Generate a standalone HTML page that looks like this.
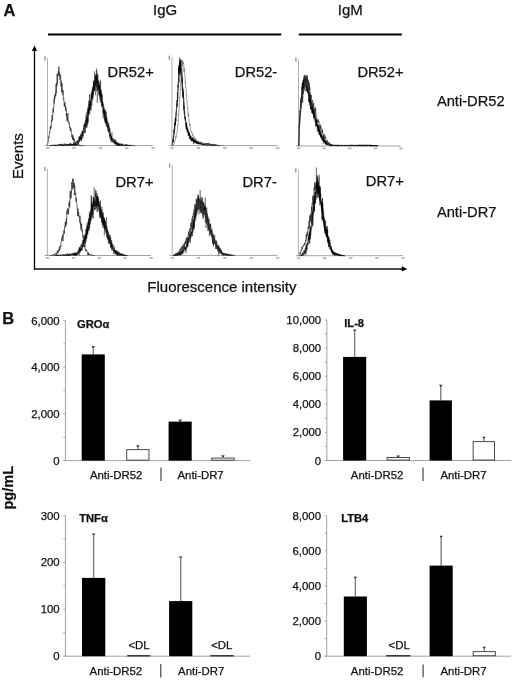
<!DOCTYPE html>
<html><head><meta charset="utf-8"><style>
html,body{margin:0;padding:0;background:#fff;}
body{width:520px;height:684px;overflow:hidden;}
svg{display:block;font-family:"Liberation Sans", sans-serif;filter:blur(0.3px);}
text{stroke:#111;stroke-width:0.25px;paint-order:stroke;}
</style></head><body>
<svg width="520" height="684" viewBox="0 0 520 684">
<rect width="520" height="684" fill="#fff"/>
<text x="3.60" y="15.60" font-size="16.5" font-weight="bold" text-anchor="start" fill="#111" >A</text>
<text x="153.10" y="15.40" font-size="15" font-weight="normal" text-anchor="start" fill="#111" >IgG</text>
<text x="337.80" y="15.40" font-size="15" font-weight="normal" text-anchor="start" fill="#111" >IgM</text>
<line x1="48.00" y1="34.40" x2="281.30" y2="34.40" stroke="#000" stroke-width="2" />
<line x1="298.80" y1="34.40" x2="401.80" y2="34.40" stroke="#000" stroke-width="2" />
<line x1="34.50" y1="50.00" x2="34.50" y2="269.60" stroke="#000" stroke-width="1.3" />
<path d="M34.5 45.6 L37.1 51 L31.9 51 Z" fill="#000"/>
<line x1="33.90" y1="268.95" x2="402.50" y2="268.95" stroke="#111" stroke-width="1.4" />
<path d="M407.3 268.95 L401.8 266.3 L401.8 271.6 Z" fill="#000"/>
<text x="0" y="0" font-size="15" fill="#111" transform="translate(22.7 179.0) rotate(-90)">Events</text>
<text x="147.30" y="292.40" font-size="15" font-weight="normal" text-anchor="start" fill="#111" >Fluorescence intensity</text>
<text x="107.60" y="77.00" font-size="14.7" font-weight="normal" text-anchor="start" fill="#111" >DR52+</text>
<text x="234.80" y="77.30" font-size="14.7" font-weight="normal" text-anchor="start" fill="#111" >DR52-</text>
<text x="357.40" y="77.20" font-size="14.7" font-weight="normal" text-anchor="start" fill="#111" >DR52+</text>
<text x="436.90" y="105.80" font-size="14.7" font-weight="normal" text-anchor="start" fill="#111" >Anti-DR52</text>
<text x="115.50" y="187.00" font-size="14.7" font-weight="normal" text-anchor="start" fill="#111" >DR7+</text>
<text x="242.50" y="186.60" font-size="14.7" font-weight="normal" text-anchor="start" fill="#111" >DR7-</text>
<text x="365.80" y="186.40" font-size="14.7" font-weight="normal" text-anchor="start" fill="#111" >DR7+</text>
<text x="436.90" y="217.10" font-size="14.7" font-weight="normal" text-anchor="start" fill="#111" >Anti-DR7</text>
<line x1="47.50" y1="58.20" x2="47.50" y2="145.60" stroke="#9a9a9a" stroke-width="0.8" />
<line x1="45.00" y1="145.60" x2="153.00" y2="145.60" stroke="#8a8a8a" stroke-width="0.8" />
<rect x="44.20" y="56.20" width="1.40" height="4.20" fill="#999" stroke="none" stroke-width="0"/>
<rect x="45.90" y="147.20" width="3.40" height="1.60" fill="#b0b0b0" stroke="none" stroke-width="0"/>
<rect x="72.28" y="147.20" width="3.40" height="1.60" fill="#b0b0b0" stroke="none" stroke-width="0"/>
<rect x="98.65" y="147.20" width="3.40" height="1.60" fill="#b0b0b0" stroke="none" stroke-width="0"/>
<rect x="125.03" y="147.20" width="3.40" height="1.60" fill="#b0b0b0" stroke="none" stroke-width="0"/>
<rect x="151.40" y="147.20" width="3.40" height="1.60" fill="#b0b0b0" stroke="none" stroke-width="0"/>
<path d="M47.30 145.60 L47.50 144.54 L47.70 143.92 L47.90 143.50 L48.10 142.16 L48.30 141.76 L48.50 139.49 L48.70 136.63 L48.90 137.93 L49.10 136.92 L49.30 133.84 L49.50 132.68 L49.70 131.75 L49.90 132.37 L50.10 129.24 L50.30 126.35 L50.50 129.40 L50.70 126.18 L50.90 128.26 L51.10 125.61 L51.30 125.75 L51.50 120.49 L51.70 121.87 L51.90 116.54 L52.10 115.51 L52.30 115.13 L52.50 120.43 L52.70 113.49 L52.90 110.70 L53.10 108.84 L53.30 112.50 L53.50 107.89 L53.70 108.12 L53.90 106.23 L54.10 98.74 L54.30 103.56 L54.50 99.61 L54.70 95.10 L54.90 98.84 L55.10 95.85 L55.30 93.72 L55.50 92.55 L55.70 95.96 L55.90 89.81 L56.10 83.73 L56.30 93.46 L56.50 82.99 L56.70 84.50 L56.90 86.02 L57.10 73.95 L57.30 77.27 L57.50 83.68 L57.70 76.97 L57.90 73.50 L58.10 75.50 L58.30 70.83 L58.50 73.31 L58.70 69.80 L58.90 66.48 L59.10 75.71 L59.30 72.36 L59.50 75.75 L59.70 73.96 L59.90 80.32 L60.10 78.71 L60.30 78.16 L60.50 74.79 L60.70 75.01 L60.90 86.20 L61.10 85.27 L61.30 80.79 L61.50 92.34 L61.70 87.52 L61.90 87.25 L62.10 83.38 L62.30 86.94 L62.50 92.19 L62.70 93.82 L62.90 94.89 L63.10 90.09 L63.30 98.42 L63.50 99.32 L63.70 98.30 L63.90 101.04 L64.10 102.38 L64.30 106.44 L64.50 103.86 L64.70 106.24 L64.90 102.12 L65.10 104.71 L65.30 107.76 L65.50 106.57 L65.70 110.52 L65.90 107.27 L66.10 111.29 L66.30 110.47 L66.50 116.72 L66.70 112.93 L66.90 119.45 L67.10 121.18 L67.30 117.27 L67.50 119.67 L67.70 117.66 L67.90 113.10 L68.10 121.81 L68.30 122.05 L68.50 120.76 L68.70 120.85 L68.90 123.23 L69.10 124.05 L69.30 122.70 L69.50 123.88 L69.70 128.10 L69.90 126.71 L70.10 127.21 L70.30 130.25 L70.50 128.26 L70.70 131.27 L70.90 128.41 L71.10 130.69 L71.30 131.63 L71.50 133.60 L71.70 133.46 L71.90 137.37 L72.10 136.52 L72.30 134.73 L72.50 139.26 L72.70 135.31 L72.90 139.71 L73.10 136.68 L73.30 139.41 L73.50 137.75 L73.70 139.07 L73.90 141.57 L74.10 138.72 L74.30 139.04 L74.50 141.18 L74.70 141.85 L74.90 142.17 L75.10 143.32 L75.30 141.95 L75.50 143.66 L75.70 143.63 L75.90 144.42 L76.10 144.55 L76.30 145.11 L76.50 143.97 L76.70 144.80 L76.90 144.37 L77.10 144.84 L77.30 145.18 L77.50 145.06 L77.70 145.18 L77.90 144.99 L78.10 145.17 L78.30 145.18 L78.50 145.59 L78.70 145.41 L78.90 144.62 L79.10 145.41 L79.30 145.55 L79.50 145.15 L79.70 144.88 L79.90 145.60 L80.10 145.38 L80.30 145.51 L80.50 145.60 L80.70 145.22 L80.90 145.42 L81.10 145.42 L81.30 145.59 L81.50 145.38 L81.70 145.57 L81.90 145.52 L82.10 145.60 L82.30 145.60 L82.50 145.36 L82.70 145.60 L82.90 145.52 L83.10 145.56 L83.30 145.60 L83.50 145.60 L83.70 145.54 L83.90 145.60 L84.10 145.60 L84.30 145.59 L84.50 145.57 L84.70 145.59 L84.90 145.60" fill="none" stroke="#333" stroke-width="0.85" stroke-opacity="0.85" stroke-linejoin="round"/>
<path d="M49.00 145.60 L49.15 145.56 L49.30 145.60 L49.45 145.60 L49.60 145.47 L49.75 145.48 L49.90 145.51 L50.05 145.60 L50.20 145.42 L50.35 145.26 L50.50 145.27 L50.65 145.45 L50.80 145.60 L50.95 145.24 L51.10 145.52 L51.25 145.60 L51.40 145.35 L51.55 145.60 L51.70 145.60 L51.85 145.60 L52.00 145.02 L52.15 145.55 L52.30 145.32 L52.45 144.80 L52.60 144.84 L52.75 145.43 L52.90 145.48 L53.05 145.60 L53.20 145.60 L53.35 145.20 L53.50 145.21 L53.65 145.31 L53.80 144.95 L53.95 145.60 L54.10 145.36 L54.25 145.02 L54.40 145.08 L54.55 144.86 L54.70 145.14 L54.85 145.44 L55.00 145.14 L55.15 145.60 L55.30 145.60 L55.45 145.02 L55.60 145.30 L55.75 145.13 L55.90 145.60 L56.05 145.43 L56.20 145.54 L56.35 145.60 L56.50 145.60 L56.65 145.41 L56.80 144.81 L56.95 145.05 L57.10 145.52 L57.25 145.24 L57.40 144.85 L57.55 145.60 L57.70 145.28 L57.85 144.94 L58.00 144.87 L58.15 144.35 L58.30 144.63 L58.45 145.04 L58.60 145.04 L58.75 144.79 L58.90 145.46 L59.05 145.20 L59.20 144.71 L59.35 144.15 L59.50 145.25 L59.65 145.19 L59.80 145.06 L59.95 144.45 L60.10 145.17 L60.25 144.36 L60.40 145.60 L60.55 145.24 L60.70 145.25 L60.85 144.71 L61.00 144.56 L61.15 145.60 L61.30 145.60 L61.45 144.93 L61.60 145.48 L61.75 145.60 L61.90 144.52 L62.05 144.82 L62.20 144.81 L62.35 145.36 L62.50 144.49 L62.65 145.22 L62.80 144.44 L62.95 145.60 L63.10 145.57 L63.25 144.94 L63.40 145.47 L63.55 144.65 L63.70 144.89 L63.85 145.59 L64.00 145.00 L64.15 145.25 L64.30 144.48 L64.45 145.41 L64.60 145.29 L64.75 144.28 L64.90 143.64 L65.05 143.78 L65.20 144.96 L65.35 144.86 L65.50 144.04 L65.65 145.07 L65.80 145.60 L65.95 144.91 L66.10 144.69 L66.25 145.50 L66.40 145.60 L66.55 145.60 L66.70 144.53 L66.85 145.44 L67.00 145.03 L67.15 144.80 L67.30 144.53 L67.45 145.15 L67.60 144.59 L67.75 145.50 L67.90 145.15 L68.05 145.59 L68.20 144.13 L68.35 144.91 L68.50 145.38 L68.65 145.11 L68.80 145.02 L68.95 144.38 L69.10 145.60 L69.25 145.56 L69.40 145.10 L69.55 143.04 L69.70 144.14 L69.85 144.89 L70.00 144.29 L70.15 143.31 L70.30 144.95 L70.45 145.04 L70.60 143.87 L70.75 144.39 L70.90 144.24 L71.05 145.11 L71.20 143.27 L71.35 143.41 L71.50 144.26 L71.65 144.15 L71.80 145.60 L71.95 144.15 L72.10 144.78 L72.25 144.27 L72.40 144.05 L72.55 144.86 L72.70 145.60 L72.85 144.24 L73.00 145.14 L73.15 144.78 L73.30 144.99 L73.45 144.75 L73.60 145.60 L73.75 143.35 L73.90 144.16 L74.05 143.37 L74.20 142.55 L74.35 144.28 L74.50 145.60 L74.65 145.08 L74.80 145.35 L74.95 144.66 L75.10 144.07 L75.25 145.60 L75.40 143.73 L75.55 145.54 L75.70 143.65 L75.85 144.00 L76.00 144.14 L76.15 143.78 L76.30 144.21 L76.45 144.19 L76.60 145.37 L76.75 143.25 L76.90 140.72 L77.05 140.32 L77.20 140.97 L77.35 141.61 L77.50 143.38 L77.65 140.11 L77.80 142.13 L77.95 141.96 L78.10 142.11 L78.25 141.30 L78.40 141.96 L78.55 141.17 L78.70 142.71 L78.85 141.26 L79.00 136.19 L79.15 140.27 L79.30 140.37 L79.45 138.65 L79.60 138.06 L79.75 141.48 L79.90 139.43 L80.05 136.84 L80.20 137.94 L80.35 137.99 L80.50 134.56 L80.65 139.23 L80.80 137.23 L80.95 138.33 L81.10 133.26 L81.25 141.20 L81.40 137.80 L81.55 137.13 L81.70 133.77 L81.85 133.53 L82.00 131.06 L82.15 138.58 L82.30 131.93 L82.45 134.40 L82.60 135.07 L82.75 131.24 L82.90 135.06 L83.05 138.10 L83.20 132.65 L83.35 135.67 L83.50 132.69 L83.65 129.08 L83.80 128.81 L83.95 124.23 L84.10 129.26 L84.25 133.52 L84.40 130.52 L84.55 130.65 L84.70 131.25 L84.85 125.07 L85.00 128.39 L85.15 132.71 L85.30 122.63 L85.45 125.06 L85.60 122.81 L85.75 123.21 L85.90 120.66 L86.05 122.35 L86.20 117.12 L86.35 119.67 L86.50 119.19 L86.65 118.50 L86.80 125.49 L86.95 119.60 L87.10 119.37 L87.25 116.78 L87.40 122.82 L87.55 109.29 L87.70 115.25 L87.85 120.40 L88.00 122.02 L88.15 114.99 L88.30 113.46 L88.45 115.69 L88.60 111.25 L88.75 113.98 L88.90 107.59 L89.05 112.95 L89.20 108.88 L89.35 103.10 L89.50 94.35 L89.65 111.37 L89.80 107.87 L89.95 109.02 L90.10 99.89 L90.25 109.14 L90.40 104.93 L90.55 101.79 L90.70 106.13 L90.85 105.35 L91.00 102.08 L91.15 110.32 L91.30 106.10 L91.45 99.74 L91.60 95.93 L91.75 97.12 L91.90 105.44 L92.05 97.36 L92.20 89.46 L92.35 90.18 L92.50 93.21 L92.65 97.33 L92.80 87.83 L92.95 94.40 L93.10 97.38 L93.25 94.71 L93.40 80.76 L93.55 87.68 L93.70 81.60 L93.85 91.12 L94.00 82.12 L94.15 91.11 L94.30 88.01 L94.45 71.39 L94.60 81.56 L94.75 89.02 L94.90 86.10 L95.05 83.22 L95.20 77.39 L95.35 87.70 L95.50 95.29 L95.65 85.91 L95.80 83.87 L95.95 83.12 L96.10 75.41 L96.25 81.63 L96.40 78.48 L96.55 87.31 L96.70 78.21 L96.85 70.57 L97.00 79.02 L97.15 82.43 L97.30 83.23 L97.45 73.21 L97.60 90.42 L97.75 85.56 L97.90 82.28 L98.05 80.81 L98.20 88.44 L98.35 84.16 L98.50 88.10 L98.65 86.00 L98.80 87.91 L98.95 94.43 L99.10 87.97 L99.25 82.90 L99.40 94.44 L99.55 90.48 L99.70 85.57 L99.85 96.52 L100.00 89.73 L100.15 97.77 L100.30 85.67 L100.45 79.70 L100.60 82.31 L100.75 96.04 L100.90 91.47 L101.05 95.84 L101.20 96.80 L101.35 89.67 L101.50 106.20 L101.65 94.03 L101.80 100.77 L101.95 93.77 L102.10 101.06 L102.25 106.35 L102.40 102.17 L102.55 100.61 L102.70 104.99 L102.85 103.50 L103.00 109.34 L103.15 118.04 L103.30 103.87 L103.45 105.64 L103.60 109.06 L103.75 110.18 L103.90 106.36 L104.05 113.76 L104.20 115.85 L104.35 114.13 L104.50 108.58 L104.65 120.77 L104.80 110.00 L104.95 118.68 L105.10 121.29 L105.25 111.80 L105.40 118.22 L105.55 123.85 L105.70 120.53 L105.85 115.86 L106.00 115.46 L106.15 122.55 L106.30 119.84 L106.45 119.24 L106.60 125.06 L106.75 121.80 L106.90 123.81 L107.05 126.22 L107.20 126.56 L107.35 125.05 L107.50 125.69 L107.65 128.30 L107.80 128.30 L107.95 123.53 L108.10 127.13 L108.25 124.98 L108.40 124.97 L108.55 127.52 L108.70 122.74 L108.85 133.02 L109.00 128.48 L109.15 132.42 L109.30 126.48 L109.45 127.53 L109.60 138.51 L109.75 136.13 L109.90 131.80 L110.05 132.23 L110.20 132.86 L110.35 135.41 L110.50 134.50 L110.65 134.44 L110.80 136.63 L110.95 134.38 L111.10 142.42 L111.25 136.06 L111.40 140.13 L111.55 136.01 L111.70 138.88 L111.85 140.51 L112.00 138.09 L112.15 140.93 L112.30 141.10 L112.45 142.56 L112.60 139.70 L112.75 138.88 L112.90 138.08 L113.05 140.46 L113.20 138.46 L113.35 140.52 L113.50 140.88 L113.65 139.89 L113.80 139.22 L113.95 141.79 L114.10 141.78 L114.25 141.79 L114.40 141.55 L114.55 143.23 L114.70 140.41 L114.85 142.70 L115.00 141.58 L115.15 143.57 L115.30 142.02 L115.45 142.11 L115.60 143.34 L115.75 140.23 L115.90 142.53 L116.05 140.88 L116.20 142.04 L116.35 144.13 L116.50 143.88 L116.65 143.02 L116.80 143.55 L116.95 143.65 L117.10 144.10 L117.25 145.60 L117.40 144.17 L117.55 145.60 L117.70 143.71 L117.85 144.84 L118.00 144.87 L118.15 144.45 L118.30 144.05 L118.45 145.60 L118.60 145.60 L118.75 145.34 L118.90 145.60 L119.05 145.29 L119.20 143.17 L119.35 145.41 L119.50 144.03 L119.65 145.60 L119.80 144.38 L119.95 144.89 L120.10 144.72 L120.25 144.26 L120.40 143.40 L120.55 144.60 L120.70 144.67 L120.85 145.49 L121.00 144.40 L121.15 145.00 L121.30 144.28 L121.45 144.90 L121.60 143.72 L121.75 145.60 L121.90 145.12 L122.05 144.38 L122.20 145.19 L122.35 145.48 L122.50 145.16 L122.65 145.60 L122.80 144.95 L122.95 143.58 L123.10 144.38 L123.25 145.60 L123.40 145.58 L123.55 145.32 L123.70 144.54 L123.85 145.57 L124.00 145.51 L124.15 144.66 L124.30 144.69 L124.45 145.36 L124.60 145.60 L124.75 145.60 L124.90 145.55 L125.05 145.60 L125.20 144.84 L125.35 145.53 L125.50 145.00 L125.65 144.35 L125.80 144.70 L125.95 145.60 L126.10 144.87 L126.25 144.75 L126.40 145.60 L126.55 145.60 L126.70 145.35 L126.85 145.60 L127.00 144.70 L127.15 145.60 L127.30 145.60 L127.45 145.46 L127.60 145.45 L127.75 145.30 L127.90 145.27 L128.05 145.46 L128.20 144.97 L128.35 145.60 L128.50 145.41 L128.65 145.60 L128.80 145.38 L128.95 145.36 L129.10 145.60 L129.25 145.60 L129.40 145.21 L129.55 145.35 L129.70 145.60 L129.85 144.89 L130.00 144.84 L130.15 145.60 L130.30 145.41 L130.45 144.86 L130.60 145.31 L130.75 145.46 L130.90 145.56 L131.05 145.60 L131.20 145.57 L131.35 145.60 L131.50 145.39 L131.65 145.60 L131.80 145.60 L131.95 145.60 L132.10 145.56 L132.25 145.60 L132.40 145.59 L132.55 145.42 L132.70 145.52 L132.85 145.51 L133.00 145.54 L133.15 145.58 L133.30 145.60 L133.45 145.60 L133.60 145.53 L133.75 145.60 L133.90 145.51 L134.05 145.59 L134.20 145.60 L134.35 145.60 L134.50 145.60 L134.65 145.60 L134.80 145.60 L134.95 145.60" fill="none" stroke="#000" stroke-width="0.5" stroke-opacity="0.7" stroke-linejoin="round"/>
<path d="M49.00 145.60 L49.15 145.50 L49.30 145.60 L49.45 145.60 L49.60 145.55 L49.75 145.59 L49.90 145.60 L50.05 145.60 L50.20 145.60 L50.35 145.20 L50.50 145.05 L50.65 145.34 L50.80 145.19 L50.95 145.60 L51.10 145.50 L51.25 145.39 L51.40 145.60 L51.55 145.60 L51.70 145.42 L51.85 145.54 L52.00 145.60 L52.15 145.30 L52.30 145.51 L52.45 145.05 L52.60 145.40 L52.75 145.50 L52.90 145.34 L53.05 145.45 L53.20 145.60 L53.35 145.52 L53.50 145.07 L53.65 145.10 L53.80 144.83 L53.95 145.60 L54.10 145.50 L54.25 145.50 L54.40 145.25 L54.55 145.51 L54.70 145.53 L54.85 144.97 L55.00 145.22 L55.15 145.60 L55.30 144.69 L55.45 144.84 L55.60 145.54 L55.75 144.89 L55.90 145.60 L56.05 144.74 L56.20 145.36 L56.35 145.60 L56.50 145.43 L56.65 145.60 L56.80 145.15 L56.95 145.15 L57.10 145.22 L57.25 145.50 L57.40 145.60 L57.55 145.18 L57.70 145.60 L57.85 145.09 L58.00 144.64 L58.15 145.07 L58.30 145.40 L58.45 145.29 L58.60 145.26 L58.75 145.47 L58.90 145.49 L59.05 145.60 L59.20 144.56 L59.35 145.18 L59.50 144.67 L59.65 145.30 L59.80 145.12 L59.95 145.25 L60.10 144.91 L60.25 144.71 L60.40 145.02 L60.55 145.51 L60.70 145.56 L60.85 144.23 L61.00 145.28 L61.15 145.29 L61.30 144.31 L61.45 144.51 L61.60 144.81 L61.75 145.33 L61.90 143.78 L62.05 144.88 L62.20 144.78 L62.35 145.19 L62.50 145.60 L62.65 145.60 L62.80 144.84 L62.95 144.84 L63.10 145.21 L63.25 145.60 L63.40 145.60 L63.55 145.25 L63.70 145.60 L63.85 144.51 L64.00 144.35 L64.15 143.33 L64.30 144.50 L64.45 145.39 L64.60 145.55 L64.75 145.60 L64.90 145.38 L65.05 145.12 L65.20 144.41 L65.35 144.62 L65.50 144.63 L65.65 144.86 L65.80 144.57 L65.95 144.07 L66.10 145.60 L66.25 145.26 L66.40 145.60 L66.55 143.92 L66.70 144.12 L66.85 144.46 L67.00 145.60 L67.15 144.83 L67.30 145.09 L67.45 144.87 L67.60 145.04 L67.75 144.57 L67.90 145.17 L68.05 144.33 L68.20 144.73 L68.35 145.09 L68.50 144.96 L68.65 145.17 L68.80 144.31 L68.95 145.05 L69.10 144.65 L69.25 145.12 L69.40 145.60 L69.55 144.19 L69.70 145.57 L69.85 144.33 L70.00 144.50 L70.15 145.60 L70.30 145.47 L70.45 145.15 L70.60 145.36 L70.75 145.60 L70.90 144.19 L71.05 144.91 L71.20 144.43 L71.35 145.03 L71.50 144.46 L71.65 145.25 L71.80 144.68 L71.95 144.19 L72.10 144.60 L72.25 144.98 L72.40 145.47 L72.55 144.45 L72.70 144.28 L72.85 144.76 L73.00 145.16 L73.15 144.05 L73.30 142.38 L73.45 144.72 L73.60 144.15 L73.75 144.08 L73.90 145.60 L74.05 144.25 L74.20 144.97 L74.35 143.04 L74.50 144.51 L74.65 144.97 L74.80 144.42 L74.95 144.02 L75.10 144.69 L75.25 144.16 L75.40 145.41 L75.55 144.25 L75.70 143.16 L75.85 141.82 L76.00 143.04 L76.15 143.40 L76.30 142.25 L76.45 142.29 L76.60 141.35 L76.75 141.88 L76.90 143.22 L77.05 142.58 L77.20 142.51 L77.35 142.17 L77.50 142.13 L77.65 143.38 L77.80 145.22 L77.95 142.89 L78.10 144.87 L78.25 141.33 L78.40 141.23 L78.55 143.89 L78.70 139.60 L78.85 139.04 L79.00 140.19 L79.15 137.03 L79.30 136.35 L79.45 142.03 L79.60 137.40 L79.75 138.34 L79.90 138.14 L80.05 136.81 L80.20 140.01 L80.35 139.54 L80.50 139.81 L80.65 139.36 L80.80 137.64 L80.95 140.50 L81.10 139.28 L81.25 135.08 L81.40 136.32 L81.55 134.85 L81.70 140.27 L81.85 137.13 L82.00 136.20 L82.15 134.27 L82.30 135.58 L82.45 130.87 L82.60 133.36 L82.75 132.74 L82.90 132.34 L83.05 129.87 L83.20 132.96 L83.35 127.70 L83.50 129.26 L83.65 129.76 L83.80 129.67 L83.95 127.67 L84.10 125.58 L84.25 125.31 L84.40 126.72 L84.55 124.54 L84.70 126.65 L84.85 122.22 L85.00 126.21 L85.15 133.06 L85.30 120.31 L85.45 124.26 L85.60 128.47 L85.75 124.35 L85.90 126.41 L86.05 114.42 L86.20 119.99 L86.35 127.53 L86.50 118.58 L86.65 121.62 L86.80 111.71 L86.95 123.27 L87.10 127.68 L87.25 117.38 L87.40 118.50 L87.55 118.16 L87.70 125.07 L87.85 113.16 L88.00 106.90 L88.15 122.34 L88.30 107.70 L88.45 115.00 L88.60 100.73 L88.75 108.91 L88.90 111.11 L89.05 104.15 L89.20 106.13 L89.35 110.82 L89.50 103.59 L89.65 108.88 L89.80 114.58 L89.95 94.33 L90.10 105.74 L90.25 106.33 L90.40 100.60 L90.55 109.91 L90.70 108.14 L90.85 102.88 L91.00 102.32 L91.15 98.43 L91.30 91.95 L91.45 100.08 L91.60 94.00 L91.75 92.68 L91.90 101.53 L92.05 93.41 L92.20 99.46 L92.35 87.24 L92.50 90.11 L92.65 92.04 L92.80 99.42 L92.95 90.29 L93.10 94.99 L93.25 85.71 L93.40 90.16 L93.55 93.89 L93.70 83.01 L93.85 83.84 L94.00 91.43 L94.15 80.35 L94.30 88.87 L94.45 88.56 L94.60 85.53 L94.75 90.58 L94.90 88.31 L95.05 86.24 L95.20 75.40 L95.35 75.28 L95.50 86.01 L95.65 74.06 L95.80 84.24 L95.95 81.42 L96.10 78.13 L96.25 81.79 L96.40 68.39 L96.55 82.09 L96.70 91.21 L96.85 75.54 L97.00 86.46 L97.15 85.93 L97.30 102.95 L97.45 78.13 L97.60 79.51 L97.75 79.89 L97.90 79.05 L98.05 74.93 L98.20 86.02 L98.35 80.27 L98.50 90.97 L98.65 88.91 L98.80 80.63 L98.95 85.08 L99.10 95.95 L99.25 86.03 L99.40 89.70 L99.55 93.96 L99.70 86.95 L99.85 92.55 L100.00 100.11 L100.15 95.61 L100.30 81.96 L100.45 101.89 L100.60 92.66 L100.75 91.31 L100.90 92.04 L101.05 103.38 L101.20 99.15 L101.35 97.42 L101.50 94.62 L101.65 103.24 L101.80 106.76 L101.95 94.76 L102.10 96.21 L102.25 100.89 L102.40 106.77 L102.55 102.30 L102.70 104.62 L102.85 101.74 L103.00 112.96 L103.15 106.93 L103.30 109.05 L103.45 114.40 L103.60 108.74 L103.75 110.34 L103.90 112.20 L104.05 110.08 L104.20 119.12 L104.35 113.51 L104.50 111.99 L104.65 113.33 L104.80 110.50 L104.95 121.13 L105.10 123.04 L105.25 116.16 L105.40 115.89 L105.55 109.59 L105.70 116.51 L105.85 123.22 L106.00 117.01 L106.15 124.22 L106.30 127.28 L106.45 111.88 L106.60 121.33 L106.75 120.43 L106.90 121.58 L107.05 117.38 L107.20 123.73 L107.35 120.90 L107.50 129.46 L107.65 131.20 L107.80 121.88 L107.95 122.29 L108.10 126.13 L108.25 127.62 L108.40 128.35 L108.55 131.63 L108.70 125.06 L108.85 128.40 L109.00 129.41 L109.15 130.25 L109.30 128.87 L109.45 131.00 L109.60 130.83 L109.75 136.69 L109.90 132.50 L110.05 128.48 L110.20 136.16 L110.35 135.56 L110.50 133.40 L110.65 133.69 L110.80 134.93 L110.95 140.65 L111.10 136.00 L111.25 140.20 L111.40 139.66 L111.55 136.91 L111.70 139.02 L111.85 136.93 L112.00 132.33 L112.15 137.48 L112.30 137.80 L112.45 141.23 L112.60 140.90 L112.75 141.87 L112.90 141.02 L113.05 142.23 L113.20 141.58 L113.35 140.92 L113.50 142.49 L113.65 143.35 L113.80 143.38 L113.95 140.45 L114.10 141.28 L114.25 139.87 L114.40 140.03 L114.55 142.36 L114.70 140.96 L114.85 144.27 L115.00 138.92 L115.15 140.68 L115.30 142.82 L115.45 144.25 L115.60 142.26 L115.75 145.35 L115.90 144.01 L116.05 142.17 L116.20 143.13 L116.35 143.92 L116.50 142.31 L116.65 144.72 L116.80 143.30 L116.95 144.25 L117.10 144.70 L117.25 143.38 L117.40 144.96 L117.55 142.09 L117.70 144.65 L117.85 142.21 L118.00 145.23 L118.15 143.68 L118.30 145.39 L118.45 145.54 L118.60 144.24 L118.75 143.82 L118.90 145.54 L119.05 143.47 L119.20 145.17 L119.35 144.43 L119.50 144.25 L119.65 144.11 L119.80 145.60 L119.95 143.38 L120.10 144.24 L120.25 145.02 L120.40 145.49 L120.55 145.60 L120.70 145.60 L120.85 144.40 L121.00 145.05 L121.15 145.60 L121.30 145.22 L121.45 143.80 L121.60 145.11 L121.75 145.30 L121.90 144.04 L122.05 144.65 L122.20 144.93 L122.35 145.36 L122.50 145.60 L122.65 145.60 L122.80 145.32 L122.95 145.17 L123.10 144.84 L123.25 144.75 L123.40 144.95 L123.55 144.97 L123.70 145.60 L123.85 145.60 L124.00 145.42 L124.15 145.60 L124.30 145.50 L124.45 145.31 L124.60 145.60 L124.75 145.60 L124.90 145.24 L125.05 145.14 L125.20 145.54 L125.35 144.98 L125.50 145.34 L125.65 145.60 L125.80 145.23 L125.95 144.38 L126.10 145.58 L126.25 144.75 L126.40 144.67 L126.55 144.64 L126.70 145.60 L126.85 144.45 L127.00 145.27 L127.15 145.44 L127.30 145.43 L127.45 145.11 L127.60 145.34 L127.75 145.43 L127.90 144.89 L128.05 145.60 L128.20 145.60 L128.35 145.11 L128.50 145.16 L128.65 145.04 L128.80 145.60 L128.95 145.07 L129.10 145.28 L129.25 144.89 L129.40 145.60 L129.55 145.39 L129.70 145.55 L129.85 145.60 L130.00 145.60 L130.15 145.18 L130.30 145.60 L130.45 145.60 L130.60 145.29 L130.75 145.27 L130.90 145.29 L131.05 145.60 L131.20 145.54 L131.35 145.32 L131.50 145.60 L131.65 145.60 L131.80 145.40 L131.95 145.28 L132.10 145.60 L132.25 145.60 L132.40 145.60 L132.55 145.60 L132.70 145.59 L132.85 145.50 L133.00 145.60 L133.15 145.60 L133.30 145.57 L133.45 145.60 L133.60 145.59 L133.75 145.60 L133.90 145.42 L134.05 145.55 L134.20 145.60 L134.35 145.60 L134.50 145.60 L134.65 145.60 L134.80 145.60 L134.95 145.60" fill="none" stroke="#000" stroke-width="0.5" stroke-opacity="0.7" stroke-linejoin="round"/>
<line x1="171.90" y1="57.60" x2="171.90" y2="145.60" stroke="#9a9a9a" stroke-width="0.8" />
<line x1="169.40" y1="145.60" x2="277.50" y2="145.60" stroke="#8a8a8a" stroke-width="0.8" />
<rect x="168.60" y="55.60" width="1.40" height="4.20" fill="#999" stroke="none" stroke-width="0"/>
<rect x="170.30" y="147.20" width="3.40" height="1.60" fill="#b0b0b0" stroke="none" stroke-width="0"/>
<rect x="196.70" y="147.20" width="3.40" height="1.60" fill="#b0b0b0" stroke="none" stroke-width="0"/>
<rect x="223.10" y="147.20" width="3.40" height="1.60" fill="#b0b0b0" stroke="none" stroke-width="0"/>
<rect x="249.50" y="147.20" width="3.40" height="1.60" fill="#b0b0b0" stroke="none" stroke-width="0"/>
<rect x="275.90" y="147.20" width="3.40" height="1.60" fill="#b0b0b0" stroke="none" stroke-width="0"/>
<path d="M172.30 145.60 L172.45 144.37 L172.60 143.40 L172.75 141.03 L172.90 140.46 L173.05 140.37 L173.20 142.09 L173.35 136.75 L173.50 135.42 L173.65 136.80 L173.80 137.48 L173.95 134.87 L174.10 129.81 L174.25 132.36 L174.40 129.95 L174.55 127.29 L174.70 123.83 L174.85 125.29 L175.00 124.22 L175.15 124.02 L175.30 117.42 L175.45 117.43 L175.60 119.04 L175.75 121.15 L175.90 118.21 L176.05 113.04 L176.20 115.25 L176.35 109.11 L176.50 109.09 L176.65 107.69 L176.80 104.91 L176.95 103.67 L177.10 106.27 L177.25 102.76 L177.40 91.87 L177.55 102.01 L177.70 97.47 L177.85 89.51 L178.00 89.57 L178.15 90.04 L178.30 88.58 L178.45 77.65 L178.60 72.30 L178.75 67.78 L178.90 71.33 L179.05 65.69 L179.20 73.67 L179.35 67.40 L179.50 70.21 L179.65 65.61 L179.80 62.34 L179.95 60.36 L180.10 69.24 L180.25 58.91 L180.40 66.82 L180.55 69.74 L180.70 66.65 L180.85 73.39 L181.00 68.08 L181.15 68.15 L181.30 71.03 L181.45 69.86 L181.60 74.87 L181.75 75.13 L181.90 82.94 L182.05 78.80 L182.20 84.52 L182.35 85.10 L182.50 85.97 L182.65 87.17 L182.80 96.30 L182.95 98.07 L183.10 95.55 L183.25 94.79 L183.40 97.21 L183.55 97.50 L183.70 98.31 L183.85 103.06 L184.00 106.76 L184.15 111.83 L184.30 113.42 L184.45 113.79 L184.60 113.38 L184.75 115.06 L184.90 117.00 L185.05 118.57 L185.20 117.62 L185.35 119.73 L185.50 120.50 L185.65 121.42 L185.80 124.35 L185.95 126.31 L186.10 123.59 L186.25 124.55 L186.40 126.71 L186.55 127.82 L186.70 122.75 L186.85 129.80 L187.00 129.26 L187.15 128.85 L187.30 132.21 L187.45 130.21 L187.60 127.48 L187.75 129.64 L187.90 130.69 L188.05 131.23 L188.20 132.54 L188.35 131.47 L188.50 133.83 L188.65 134.67 L188.80 134.15 L188.95 133.18 L189.10 134.48 L189.25 134.26 L189.40 138.84 L189.55 134.07 L189.70 132.60 L189.85 134.42 L190.00 137.14 L190.15 138.12 L190.30 136.66 L190.45 138.69 L190.60 136.42 L190.75 138.38 L190.90 136.49 L191.05 136.13 L191.20 140.96 L191.35 137.97 L191.50 139.47 L191.65 140.56 L191.80 139.68 L191.95 139.31 L192.10 137.90 L192.25 141.26 L192.40 138.22 L192.55 137.21 L192.70 139.09 L192.85 139.31 L193.00 140.11 L193.15 141.60 L193.30 139.76 L193.45 140.07 L193.60 139.81 L193.75 137.93 L193.90 140.08 L194.05 140.54 L194.20 139.45 L194.35 142.63 L194.50 142.51 L194.65 141.81 L194.80 142.19 L194.95 140.93 L195.10 142.03 L195.25 140.12 L195.40 140.43 L195.55 141.25 L195.70 142.42 L195.85 141.56 L196.00 141.46 L196.15 143.25 L196.30 142.03 L196.45 141.77 L196.60 142.27 L196.75 141.14 L196.90 141.51 L197.05 143.33 L197.20 142.55 L197.35 143.42 L197.50 142.26 L197.65 143.52 L197.80 142.07 L197.95 142.55 L198.10 142.12 L198.25 143.07 L198.40 144.17 L198.55 141.61 L198.70 143.20 L198.85 142.01 L199.00 142.80 L199.15 142.64 L199.30 141.79 L199.45 142.97 L199.60 142.20 L199.75 144.42 L199.90 142.67 L200.05 143.54 L200.20 143.49 L200.35 143.41 L200.50 143.19 L200.65 142.26 L200.80 144.84 L200.95 143.49 L201.10 144.06 L201.25 142.74 L201.40 143.90 L201.55 143.30 L201.70 143.92 L201.85 143.20 L202.00 142.99 L202.15 143.99 L202.30 143.70 L202.45 144.72 L202.60 143.57 L202.75 143.22 L202.90 144.19 L203.05 143.10 L203.20 145.23 L203.35 145.10 L203.50 144.81 L203.65 144.24 L203.80 143.93 L203.95 144.01 L204.10 144.02 L204.25 143.54 L204.40 144.32 L204.55 144.83 L204.70 144.83 L204.85 142.78 L205.00 145.54 L205.15 144.23 L205.30 143.26 L205.45 143.87 L205.60 144.67 L205.75 144.19 L205.90 143.71 L206.05 143.53 L206.20 144.77 L206.35 143.83 L206.50 144.14 L206.65 143.67 L206.80 143.53 L206.95 144.53 L207.10 145.16 L207.25 144.15 L207.40 143.40 L207.55 144.02 L207.70 144.29 L207.85 143.13 L208.00 145.01 L208.15 143.98 L208.30 144.78 L208.45 144.47 L208.60 144.46 L208.75 143.74 L208.90 145.02 L209.05 144.82 L209.20 145.38 L209.35 144.33 L209.50 144.82 L209.65 144.40 L209.80 145.15 L209.95 144.81 L210.10 144.14 L210.25 144.75 L210.40 144.38 L210.55 144.44 L210.70 144.87 L210.85 145.45 L211.00 144.27 L211.15 144.67 L211.30 144.31 L211.45 145.60 L211.60 145.53 L211.75 145.60 L211.90 145.20 L212.05 144.37 L212.20 144.59 L212.35 144.87 L212.50 144.81 L212.65 144.56 L212.80 145.02 L212.95 144.74 L213.10 144.86 L213.25 145.60 L213.40 145.10 L213.55 144.42 L213.70 145.13 L213.85 145.04 L214.00 145.24 L214.15 145.20 L214.30 144.61 L214.45 145.15 L214.60 145.44 L214.75 145.60 L214.90 145.29 L215.05 145.60 L215.20 145.60 L215.35 144.86 L215.50 144.91 L215.65 145.60 L215.80 144.90 L215.95 145.05 L216.10 145.45 L216.25 145.00 L216.40 145.60 L216.55 145.60 L216.70 145.60 L216.85 145.60 L217.00 145.06 L217.15 145.60 L217.30 145.60 L217.45 145.59 L217.60 145.31 L217.75 145.46 L217.90 145.19 L218.05 145.56 L218.20 145.60 L218.35 145.54 L218.50 145.44 L218.65 145.60 L218.80 145.43 L218.95 145.20 L219.10 145.60 L219.25 145.52 L219.40 145.38 L219.55 145.60 L219.70 145.60 L219.85 145.60" fill="none" stroke="#000" stroke-width="0.5" stroke-opacity="0.75" stroke-linejoin="round"/>
<path d="M172.30 145.60 L172.45 144.10 L172.60 142.88 L172.75 142.61 L172.90 140.77 L173.05 139.09 L173.20 137.94 L173.35 142.07 L173.50 137.89 L173.65 136.58 L173.80 134.48 L173.95 132.51 L174.10 129.82 L174.25 129.07 L174.40 129.27 L174.55 127.71 L174.70 122.66 L174.85 126.63 L175.00 123.28 L175.15 118.97 L175.30 120.57 L175.45 125.28 L175.60 117.82 L175.75 118.47 L175.90 116.17 L176.05 111.72 L176.20 111.86 L176.35 112.47 L176.50 107.51 L176.65 107.26 L176.80 106.62 L176.95 104.29 L177.10 102.67 L177.25 102.80 L177.40 101.34 L177.55 97.75 L177.70 98.41 L177.85 97.91 L178.00 85.50 L178.15 87.85 L178.30 83.45 L178.45 80.37 L178.60 76.44 L178.75 73.62 L178.90 71.28 L179.05 73.72 L179.20 65.08 L179.35 71.18 L179.50 62.63 L179.65 74.93 L179.80 70.44 L179.95 60.71 L180.10 65.45 L180.25 67.63 L180.40 63.00 L180.55 69.82 L180.70 65.55 L180.85 76.73 L181.00 67.73 L181.15 72.25 L181.30 68.45 L181.45 68.40 L181.60 77.17 L181.75 68.40 L181.90 79.43 L182.05 87.36 L182.20 90.66 L182.35 77.25 L182.50 85.94 L182.65 90.35 L182.80 92.95 L182.95 96.36 L183.10 89.64 L183.25 96.74 L183.40 92.30 L183.55 101.17 L183.70 110.28 L183.85 101.95 L184.00 107.85 L184.15 109.25 L184.30 105.99 L184.45 113.20 L184.60 110.87 L184.75 115.68 L184.90 119.02 L185.05 116.84 L185.20 120.78 L185.35 117.16 L185.50 118.86 L185.65 122.01 L185.80 121.61 L185.95 122.59 L186.10 125.35 L186.25 123.48 L186.40 126.72 L186.55 125.59 L186.70 129.60 L186.85 128.00 L187.00 127.96 L187.15 130.97 L187.30 130.74 L187.45 131.47 L187.60 129.52 L187.75 132.75 L187.90 131.04 L188.05 129.52 L188.20 132.09 L188.35 135.99 L188.50 133.34 L188.65 132.17 L188.80 134.79 L188.95 132.84 L189.10 134.00 L189.25 134.65 L189.40 136.04 L189.55 136.71 L189.70 136.57 L189.85 136.33 L190.00 135.87 L190.15 136.23 L190.30 137.49 L190.45 137.15 L190.60 136.88 L190.75 139.92 L190.90 138.88 L191.05 139.10 L191.20 138.45 L191.35 138.72 L191.50 138.87 L191.65 139.84 L191.80 137.99 L191.95 138.67 L192.10 141.26 L192.25 139.33 L192.40 140.89 L192.55 137.57 L192.70 140.34 L192.85 140.41 L193.00 139.98 L193.15 140.45 L193.30 140.42 L193.45 138.73 L193.60 140.36 L193.75 139.82 L193.90 139.63 L194.05 142.01 L194.20 139.30 L194.35 140.48 L194.50 140.32 L194.65 142.29 L194.80 140.69 L194.95 141.20 L195.10 142.23 L195.25 139.57 L195.40 141.33 L195.55 142.19 L195.70 141.86 L195.85 141.27 L196.00 141.15 L196.15 141.73 L196.30 141.23 L196.45 141.07 L196.60 143.54 L196.75 142.93 L196.90 143.37 L197.05 142.51 L197.20 141.41 L197.35 142.13 L197.50 143.62 L197.65 143.02 L197.80 141.96 L197.95 143.30 L198.10 142.98 L198.25 142.69 L198.40 144.45 L198.55 142.39 L198.70 142.78 L198.85 142.64 L199.00 143.89 L199.15 143.75 L199.30 143.65 L199.45 143.03 L199.60 143.20 L199.75 143.18 L199.90 141.96 L200.05 142.36 L200.20 143.91 L200.35 143.88 L200.50 142.17 L200.65 143.69 L200.80 142.48 L200.95 142.35 L201.10 143.92 L201.25 143.75 L201.40 143.52 L201.55 144.21 L201.70 144.31 L201.85 143.93 L202.00 143.09 L202.15 144.01 L202.30 143.86 L202.45 144.06 L202.60 144.69 L202.75 142.79 L202.90 145.37 L203.05 144.26 L203.20 143.48 L203.35 144.78 L203.50 143.50 L203.65 143.10 L203.80 144.48 L203.95 143.82 L204.10 144.68 L204.25 143.67 L204.40 143.95 L204.55 143.89 L204.70 143.20 L204.85 143.78 L205.00 143.26 L205.15 143.72 L205.30 144.85 L205.45 143.99 L205.60 143.87 L205.75 145.04 L205.90 143.42 L206.05 144.18 L206.20 144.02 L206.35 144.77 L206.50 144.23 L206.65 144.12 L206.80 144.49 L206.95 144.28 L207.10 145.53 L207.25 143.60 L207.40 144.99 L207.55 145.58 L207.70 144.93 L207.85 144.87 L208.00 144.14 L208.15 144.94 L208.30 144.32 L208.45 144.99 L208.60 143.34 L208.75 144.23 L208.90 143.52 L209.05 145.06 L209.20 144.22 L209.35 145.05 L209.50 144.29 L209.65 144.26 L209.80 145.40 L209.95 145.18 L210.10 145.21 L210.25 145.38 L210.40 145.02 L210.55 145.14 L210.70 145.38 L210.85 144.66 L211.00 144.47 L211.15 145.35 L211.30 145.01 L211.45 144.76 L211.60 144.88 L211.75 145.11 L211.90 144.45 L212.05 144.45 L212.20 144.54 L212.35 144.94 L212.50 144.01 L212.65 144.13 L212.80 145.06 L212.95 144.95 L213.10 144.42 L213.25 145.25 L213.40 144.78 L213.55 144.94 L213.70 145.25 L213.85 145.08 L214.00 145.60 L214.15 145.22 L214.30 145.60 L214.45 144.19 L214.60 144.50 L214.75 144.63 L214.90 144.98 L215.05 144.75 L215.20 144.68 L215.35 144.79 L215.50 144.84 L215.65 145.46 L215.80 145.04 L215.95 145.36 L216.10 145.58 L216.25 145.57 L216.40 145.11 L216.55 144.94 L216.70 145.60 L216.85 144.79 L217.00 144.90 L217.15 145.42 L217.30 145.45 L217.45 145.36 L217.60 145.12 L217.75 145.47 L217.90 145.60 L218.05 145.33 L218.20 145.60 L218.35 145.41 L218.50 145.23 L218.65 145.41 L218.80 145.34 L218.95 145.41 L219.10 145.40 L219.25 145.51 L219.40 145.60 L219.55 145.58 L219.70 145.58 L219.85 145.51" fill="none" stroke="#000" stroke-width="0.5" stroke-opacity="0.75" stroke-linejoin="round"/>
<path d="M172.30 145.60 L172.45 144.38 L172.60 143.23 L172.75 140.42 L172.90 141.29 L173.05 139.40 L173.20 138.86 L173.35 136.04 L173.50 135.75 L173.65 134.78 L173.80 134.47 L173.95 132.27 L174.10 129.31 L174.25 134.28 L174.40 129.21 L174.55 128.57 L174.70 127.09 L174.85 129.63 L175.00 122.21 L175.15 124.66 L175.30 121.90 L175.45 121.31 L175.60 123.03 L175.75 118.25 L175.90 120.98 L176.05 117.18 L176.20 114.00 L176.35 111.22 L176.50 109.90 L176.65 108.90 L176.80 99.94 L176.95 103.76 L177.10 107.35 L177.25 103.60 L177.40 101.90 L177.55 98.33 L177.70 97.81 L177.85 96.33 L178.00 84.08 L178.15 86.64 L178.30 84.56 L178.45 80.71 L178.60 77.30 L178.75 67.67 L178.90 69.36 L179.05 65.21 L179.20 82.63 L179.35 66.55 L179.50 62.37 L179.65 57.45 L179.80 65.41 L179.95 72.70 L180.10 61.98 L180.25 67.15 L180.40 72.59 L180.55 67.75 L180.70 61.02 L180.85 61.41 L181.00 64.76 L181.15 73.83 L181.30 59.75 L181.45 77.01 L181.60 73.71 L181.75 81.06 L181.90 71.37 L182.05 77.00 L182.20 77.38 L182.35 82.82 L182.50 85.72 L182.65 87.09 L182.80 97.05 L182.95 88.60 L183.10 91.07 L183.25 97.69 L183.40 98.35 L183.55 99.36 L183.70 97.29 L183.85 103.14 L184.00 106.44 L184.15 110.12 L184.30 114.95 L184.45 114.04 L184.60 113.81 L184.75 116.24 L184.90 116.70 L185.05 116.10 L185.20 118.00 L185.35 119.45 L185.50 119.50 L185.65 121.61 L185.80 123.02 L185.95 122.71 L186.10 128.56 L186.25 122.58 L186.40 128.96 L186.55 125.01 L186.70 127.46 L186.85 125.81 L187.00 128.52 L187.15 131.19 L187.30 127.70 L187.45 129.98 L187.60 130.60 L187.75 131.15 L187.90 129.91 L188.05 130.73 L188.20 132.24 L188.35 135.81 L188.50 134.18 L188.65 133.68 L188.80 131.22 L188.95 133.96 L189.10 135.08 L189.25 133.34 L189.40 135.73 L189.55 135.89 L189.70 135.87 L189.85 138.62 L190.00 135.15 L190.15 136.16 L190.30 137.40 L190.45 138.83 L190.60 137.07 L190.75 135.59 L190.90 138.65 L191.05 139.40 L191.20 137.54 L191.35 140.42 L191.50 141.42 L191.65 139.22 L191.80 139.70 L191.95 139.32 L192.10 139.83 L192.25 138.87 L192.40 139.72 L192.55 140.33 L192.70 140.29 L192.85 139.14 L193.00 138.91 L193.15 139.12 L193.30 139.51 L193.45 144.16 L193.60 141.68 L193.75 141.04 L193.90 140.59 L194.05 142.67 L194.20 139.54 L194.35 140.84 L194.50 141.91 L194.65 141.20 L194.80 141.82 L194.95 142.32 L195.10 141.16 L195.25 142.19 L195.40 143.20 L195.55 142.53 L195.70 142.11 L195.85 143.08 L196.00 140.99 L196.15 143.21 L196.30 140.70 L196.45 141.55 L196.60 143.24 L196.75 142.35 L196.90 141.48 L197.05 142.73 L197.20 143.63 L197.35 142.56 L197.50 141.02 L197.65 143.99 L197.80 142.32 L197.95 142.81 L198.10 142.96 L198.25 143.22 L198.40 143.20 L198.55 142.14 L198.70 142.54 L198.85 143.84 L199.00 141.86 L199.15 144.13 L199.30 142.64 L199.45 143.04 L199.60 142.30 L199.75 142.97 L199.90 142.48 L200.05 143.32 L200.20 142.61 L200.35 143.11 L200.50 141.81 L200.65 143.92 L200.80 142.58 L200.95 143.13 L201.10 143.37 L201.25 143.92 L201.40 143.23 L201.55 144.61 L201.70 144.55 L201.85 143.12 L202.00 144.71 L202.15 142.67 L202.30 143.87 L202.45 143.54 L202.60 143.68 L202.75 143.47 L202.90 143.96 L203.05 144.04 L203.20 143.90 L203.35 143.15 L203.50 143.11 L203.65 143.05 L203.80 143.66 L203.95 144.04 L204.10 145.00 L204.25 143.55 L204.40 143.45 L204.55 144.25 L204.70 143.51 L204.85 143.24 L205.00 144.00 L205.15 143.43 L205.30 143.91 L205.45 145.15 L205.60 144.41 L205.75 144.39 L205.90 143.86 L206.05 144.69 L206.20 144.46 L206.35 144.78 L206.50 144.26 L206.65 144.22 L206.80 143.72 L206.95 143.84 L207.10 144.22 L207.25 144.19 L207.40 144.28 L207.55 144.30 L207.70 143.53 L207.85 145.60 L208.00 144.50 L208.15 144.25 L208.30 143.84 L208.45 145.03 L208.60 144.29 L208.75 144.03 L208.90 144.73 L209.05 145.49 L209.20 144.71 L209.35 145.15 L209.50 144.23 L209.65 144.99 L209.80 143.70 L209.95 144.53 L210.10 145.00 L210.25 144.87 L210.40 145.16 L210.55 144.47 L210.70 143.96 L210.85 144.78 L211.00 144.26 L211.15 145.14 L211.30 144.58 L211.45 143.69 L211.60 145.38 L211.75 144.21 L211.90 144.26 L212.05 145.60 L212.20 145.43 L212.35 145.24 L212.50 144.42 L212.65 145.03 L212.80 144.93 L212.95 144.58 L213.10 144.84 L213.25 144.81 L213.40 145.05 L213.55 144.48 L213.70 145.25 L213.85 144.30 L214.00 145.10 L214.15 145.29 L214.30 144.76 L214.45 144.85 L214.60 145.60 L214.75 144.97 L214.90 145.55 L215.05 145.37 L215.20 144.82 L215.35 145.40 L215.50 145.01 L215.65 145.27 L215.80 144.53 L215.95 145.20 L216.10 145.55 L216.25 145.54 L216.40 145.49 L216.55 145.20 L216.70 145.25 L216.85 144.99 L217.00 145.24 L217.15 145.26 L217.30 145.23 L217.45 145.36 L217.60 145.27 L217.75 145.17 L217.90 145.20 L218.05 145.51 L218.20 145.60 L218.35 145.59 L218.50 145.38 L218.65 145.60 L218.80 145.55 L218.95 145.41 L219.10 145.59 L219.25 145.60 L219.40 145.32 L219.55 145.40 L219.70 145.59 L219.85 145.50" fill="none" stroke="#000" stroke-width="0.5" stroke-opacity="0.75" stroke-linejoin="round"/>
<path d="M172.30 145.60 L172.50 145.54 L172.70 145.43 L172.90 145.42 L173.10 145.10 L173.30 144.82 L173.50 144.69 L173.70 144.38 L173.90 144.02 L174.10 143.45 L174.30 143.39 L174.50 142.31 L174.70 142.44 L174.90 141.04 L175.10 140.46 L175.30 140.33 L175.50 138.41 L175.70 136.87 L175.90 136.43 L176.10 137.56 L176.30 134.67 L176.50 134.60 L176.70 133.90 L176.90 133.44 L177.10 131.91 L177.30 129.23 L177.50 128.35 L177.70 127.38 L177.90 125.47 L178.10 122.76 L178.30 118.87 L178.50 114.33 L178.70 115.37 L178.90 110.89 L179.10 108.43 L179.30 105.97 L179.50 101.08 L179.70 97.81 L179.90 98.34 L180.10 94.69 L180.30 87.23 L180.50 85.30 L180.70 81.30 L180.90 79.89 L181.10 76.47 L181.30 71.93 L181.50 71.74 L181.70 71.15 L181.90 66.82 L182.10 63.03 L182.30 65.84 L182.50 60.00 L182.70 60.17 L182.90 63.70 L183.10 62.23 L183.30 63.25 L183.50 62.97 L183.70 64.37 L183.90 70.29 L184.10 72.00 L184.30 68.47 L184.50 72.12 L184.70 73.43 L184.90 75.76 L185.10 75.67 L185.30 83.60 L185.50 81.60 L185.70 87.82 L185.90 87.44 L186.10 88.82 L186.30 96.11 L186.50 95.16 L186.70 98.49 L186.90 100.69 L187.10 102.34 L187.30 106.27 L187.50 108.24 L187.70 107.88 L187.90 109.66 L188.10 113.63 L188.30 116.65 L188.50 113.23 L188.70 116.41 L188.90 118.80 L189.10 121.91 L189.30 122.68 L189.50 122.98 L189.70 125.58 L189.90 123.89 L190.10 126.61 L190.30 127.36 L190.50 129.75 L190.70 130.45 L190.90 131.06 L191.10 130.69 L191.30 131.80 L191.50 132.40 L191.70 132.40 L191.90 133.00 L192.10 132.42 L192.30 134.31 L192.50 135.41 L192.70 135.00 L192.90 134.22 L193.10 136.16 L193.30 136.03 L193.50 136.66 L193.70 136.39 L193.90 136.78 L194.10 137.81 L194.30 137.67 L194.50 137.10 L194.70 137.29 L194.90 137.67 L195.10 137.97 L195.30 139.00 L195.50 139.25 L195.70 138.68 L195.90 140.20 L196.10 139.75 L196.30 141.02 L196.50 140.36 L196.70 140.75 L196.90 141.21 L197.10 140.42 L197.30 141.31 L197.50 141.29 L197.70 141.40 L197.90 141.80 L198.10 140.88 L198.30 141.97 L198.50 141.77 L198.70 142.61 L198.90 142.34 L199.10 142.38 L199.30 142.47 L199.50 142.68 L199.70 142.45 L199.90 141.91 L200.10 142.70 L200.30 142.77 L200.50 142.93 L200.70 141.79 L200.90 142.23 L201.10 142.72 L201.30 142.71 L201.50 143.33 L201.70 143.16 L201.90 143.07 L202.10 143.15 L202.30 143.57 L202.50 143.58 L202.70 143.14 L202.90 143.26 L203.10 144.18 L203.30 143.43 L203.50 143.05 L203.70 143.77 L203.90 143.49 L204.10 144.12 L204.30 143.36 L204.50 144.06 L204.70 144.14 L204.90 143.86 L205.10 143.00 L205.30 144.02 L205.50 144.26 L205.70 143.73 L205.90 143.83 L206.10 143.41 L206.30 144.36 L206.50 144.49 L206.70 144.11 L206.90 143.93 L207.10 143.96 L207.30 143.77 L207.50 144.56 L207.70 144.39 L207.90 144.21 L208.10 143.95 L208.30 144.08 L208.50 144.36 L208.70 144.55 L208.90 144.03 L209.10 144.04 L209.30 143.58 L209.50 144.40 L209.70 143.93 L209.90 144.72 L210.10 144.56 L210.30 144.62 L210.50 144.59 L210.70 144.71 L210.90 144.65 L211.10 144.55 L211.30 144.67 L211.50 144.41 L211.70 144.62 L211.90 144.62 L212.10 144.29 L212.30 144.59 L212.50 144.65 L212.70 144.71 L212.90 144.72 L213.10 144.62 L213.30 144.95 L213.50 144.54 L213.70 144.47 L213.90 144.59 L214.10 144.96 L214.30 145.21 L214.50 144.99 L214.70 144.89 L214.90 144.77 L215.10 144.99 L215.30 145.04 L215.50 144.71 L215.70 145.14 L215.90 144.84 L216.10 144.89 L216.30 145.31 L216.50 145.04 L216.70 145.21 L216.90 145.29 L217.10 145.45 L217.30 145.42 L217.50 145.11 L217.70 145.26 L217.90 145.17 L218.10 145.39 L218.30 145.29 L218.50 145.30 L218.70 145.49 L218.90 145.52 L219.10 145.25 L219.30 145.31 L219.50 145.46 L219.70 145.37 L219.90 145.29 L220.10 145.17 L220.30 145.49 L220.50 145.34 L220.70 145.20 L220.90 145.43 L221.10 145.30 L221.30 145.60 L221.50 145.34 L221.70 145.48 L221.90 145.60 L222.10 145.44 L222.30 145.43 L222.50 145.43 L222.70 145.45 L222.90 145.54 L223.10 145.59 L223.30 145.58 L223.50 145.56 L223.70 145.55 L223.90 145.59 L224.10 145.58 L224.30 145.56 L224.50 145.58 L224.70 145.55 L224.90 145.57" fill="none" stroke="#777" stroke-width="0.85" stroke-opacity="0.85" stroke-linejoin="round"/>
<line x1="298.50" y1="59.40" x2="298.50" y2="146.00" stroke="#9a9a9a" stroke-width="0.8" />
<line x1="296.00" y1="146.00" x2="400.80" y2="146.00" stroke="#8a8a8a" stroke-width="0.8" />
<rect x="295.20" y="57.40" width="1.40" height="4.20" fill="#999" stroke="none" stroke-width="0"/>
<rect x="296.90" y="147.60" width="3.40" height="1.60" fill="#b0b0b0" stroke="none" stroke-width="0"/>
<rect x="322.47" y="147.60" width="3.40" height="1.60" fill="#b0b0b0" stroke="none" stroke-width="0"/>
<rect x="348.05" y="147.60" width="3.40" height="1.60" fill="#b0b0b0" stroke="none" stroke-width="0"/>
<rect x="373.62" y="147.60" width="3.40" height="1.60" fill="#b0b0b0" stroke="none" stroke-width="0"/>
<rect x="399.20" y="147.60" width="3.40" height="1.60" fill="#b0b0b0" stroke="none" stroke-width="0"/>
<path d="M298.80 146.00 L298.95 140.21 L299.10 128.81 L299.25 125.28 L299.40 127.90 L299.55 119.19 L299.70 118.38 L299.85 111.38 L300.00 112.07 L300.15 110.73 L300.30 107.83 L300.45 105.31 L300.60 104.89 L300.75 104.36 L300.90 102.87 L301.05 99.53 L301.20 104.15 L301.35 99.18 L301.50 98.51 L301.65 98.65 L301.80 92.90 L301.95 98.96 L302.10 94.12 L302.25 94.56 L302.40 87.85 L302.55 90.50 L302.70 87.37 L302.85 85.13 L303.00 92.36 L303.15 83.69 L303.30 88.02 L303.45 85.57 L303.60 84.55 L303.75 80.39 L303.90 80.27 L304.05 75.69 L304.20 81.83 L304.35 84.19 L304.50 84.01 L304.65 79.00 L304.80 74.87 L304.95 79.89 L305.10 79.22 L305.25 79.93 L305.40 79.95 L305.55 80.87 L305.70 84.14 L305.85 91.69 L306.00 83.60 L306.15 77.30 L306.30 81.08 L306.45 91.36 L306.60 82.70 L306.75 90.69 L306.90 75.59 L307.05 83.41 L307.20 89.57 L307.35 82.11 L307.50 89.02 L307.65 84.30 L307.80 87.07 L307.95 92.41 L308.10 85.90 L308.25 94.59 L308.40 85.41 L308.55 91.57 L308.70 96.99 L308.85 101.20 L309.00 87.39 L309.15 91.94 L309.30 102.74 L309.45 93.45 L309.60 99.41 L309.75 101.47 L309.90 101.69 L310.05 102.95 L310.20 97.82 L310.35 102.75 L310.50 109.97 L310.65 97.43 L310.80 101.99 L310.95 108.97 L311.10 107.05 L311.25 109.30 L311.40 106.69 L311.55 106.03 L311.70 106.93 L311.85 110.07 L312.00 111.14 L312.15 106.42 L312.30 109.81 L312.45 103.00 L312.60 112.86 L312.75 108.44 L312.90 111.16 L313.05 114.06 L313.20 108.20 L313.35 112.40 L313.50 115.90 L313.65 114.72 L313.80 111.37 L313.95 118.34 L314.10 111.43 L314.25 113.94 L314.40 117.17 L314.55 113.16 L314.70 112.64 L314.85 115.67 L315.00 118.02 L315.15 114.06 L315.30 115.55 L315.45 122.45 L315.60 121.07 L315.75 121.59 L315.90 122.57 L316.05 125.79 L316.20 120.25 L316.35 122.77 L316.50 123.21 L316.65 120.50 L316.80 125.72 L316.95 124.76 L317.10 124.60 L317.25 126.67 L317.40 126.33 L317.55 124.74 L317.70 126.92 L317.85 124.34 L318.00 129.37 L318.15 127.69 L318.30 131.61 L318.45 129.19 L318.60 130.49 L318.75 126.90 L318.90 128.60 L319.05 129.49 L319.20 127.22 L319.35 128.45 L319.50 130.28 L319.65 133.40 L319.80 135.20 L319.95 132.87 L320.10 133.84 L320.25 134.72 L320.40 134.42 L320.55 137.18 L320.70 131.99 L320.85 136.90 L321.00 136.30 L321.15 134.64 L321.30 138.59 L321.45 134.73 L321.60 135.04 L321.75 137.32 L321.90 138.79 L322.05 138.13 L322.20 140.45 L322.35 135.90 L322.50 138.13 L322.65 139.50 L322.80 139.97 L322.95 138.13 L323.10 137.10 L323.25 141.07 L323.40 140.34 L323.55 142.07 L323.70 139.14 L323.85 140.01 L324.00 137.64 L324.15 140.76 L324.30 141.32 L324.45 141.82 L324.60 140.21 L324.75 143.19 L324.90 140.72 L325.05 141.45 L325.20 142.42 L325.35 142.98 L325.50 141.14 L325.65 140.51 L325.80 142.94 L325.95 142.15 L326.10 141.16 L326.25 143.49 L326.40 143.28 L326.55 144.24 L326.70 143.41 L326.85 143.47 L327.00 143.85 L327.15 144.20 L327.30 144.95 L327.45 144.84 L327.60 144.64 L327.75 143.53 L327.90 144.47 L328.05 144.79 L328.20 143.84 L328.35 144.01 L328.50 144.96 L328.65 144.96 L328.80 144.25 L328.95 144.52 L329.10 145.29 L329.25 144.76 L329.40 144.98 L329.55 144.45 L329.70 145.52 L329.85 144.72 L330.00 145.00 L330.15 145.71 L330.30 144.83 L330.45 144.93 L330.60 145.91 L330.75 144.56 L330.90 145.86 L331.05 145.77 L331.20 145.54 L331.35 145.11 L331.50 145.19 L331.65 145.47 L331.80 144.90 L331.95 145.28 L332.10 144.90 L332.25 144.36 L332.40 145.39 L332.55 146.00 L332.70 145.65 L332.85 145.89 L333.00 145.45 L333.15 145.45 L333.30 145.95 L333.45 145.93 L333.60 145.60 L333.75 145.58 L333.90 146.00 L334.05 145.16 L334.20 145.51 L334.35 145.53 L334.50 145.42 L334.65 145.90 L334.80 145.56 L334.95 145.17 L335.10 145.16 L335.25 145.38 L335.40 145.65 L335.55 145.85 L335.70 145.09 L335.85 145.38 L336.00 145.71 L336.15 146.00 L336.30 145.87 L336.45 146.00 L336.60 145.14 L336.75 145.51 L336.90 145.84 L337.05 145.68 L337.20 144.69 L337.35 145.17 L337.50 146.00 L337.65 145.63 L337.80 146.00 L337.95 146.00 L338.10 145.53 L338.25 144.77 L338.40 145.06 L338.55 145.58 L338.70 145.72 L338.85 145.53 L339.00 145.24 L339.15 146.00 L339.30 146.00 L339.45 144.96 L339.60 145.50 L339.75 145.05 L339.90 145.52 L340.05 145.10 L340.20 145.81 L340.35 145.43 L340.50 145.07 L340.65 145.25 L340.80 145.76 L340.95 145.29 L341.10 145.83 L341.25 146.00 L341.40 145.42 L341.55 145.12 L341.70 145.31 L341.85 146.00 L342.00 145.30 L342.15 145.36 L342.30 145.76 L342.45 146.00 L342.60 145.24 L342.75 145.29 L342.90 145.42 L343.05 146.00 L343.20 146.00 L343.35 145.24 L343.50 145.31 L343.65 145.42 L343.80 145.68 L343.95 145.45 L344.10 145.78 L344.25 145.70 L344.40 145.89 L344.55 145.50 L344.70 145.73 L344.85 145.25 L345.00 145.33 L345.15 145.87 L345.30 144.93 L345.45 145.98 L345.60 145.42 L345.75 145.20 L345.90 145.12 L346.05 146.00 L346.20 145.22 L346.35 145.14 L346.50 145.06 L346.65 146.00 L346.80 145.82 L346.95 145.61 L347.10 145.73 L347.25 145.09 L347.40 145.81 L347.55 145.12 L347.70 145.36 L347.85 146.00 L348.00 145.92 L348.15 145.73 L348.30 145.53 L348.45 145.20 L348.60 145.63 L348.75 145.23 L348.90 146.00 L349.05 146.00 L349.20 145.68 L349.35 145.39 L349.50 145.69 L349.65 145.92 L349.80 145.40 L349.95 144.84 L350.10 145.59 L350.25 145.82 L350.40 145.86 L350.55 144.82 L350.70 145.56 L350.85 145.32 L351.00 145.09 L351.15 145.14 L351.30 145.88 L351.45 145.18 L351.60 145.22 L351.75 145.35 L351.90 145.16 L352.05 145.75 L352.20 145.56 L352.35 145.73 L352.50 145.25 L352.65 145.78 L352.80 145.38 L352.95 145.94 L353.10 145.57 L353.25 145.66 L353.40 145.57 L353.55 145.47 L353.70 145.59 L353.85 145.61 L354.00 146.00 L354.15 145.10 L354.30 145.76 L354.45 145.61 L354.60 145.83 L354.75 145.14 L354.90 145.86 L355.05 145.32 L355.20 145.06 L355.35 144.88 L355.50 145.06 L355.65 145.27 L355.80 145.97 L355.95 145.01 L356.10 145.05 L356.25 145.19 L356.40 145.20 L356.55 145.48 L356.70 145.70 L356.85 145.09 L357.00 145.01 L357.15 145.90 L357.30 145.15 L357.45 145.41 L357.60 145.16 L357.75 145.39 L357.90 145.07 L358.05 145.10 L358.20 145.16 L358.35 146.00 L358.50 145.18 L358.65 145.48 L358.80 145.93 L358.95 145.22 L359.10 146.00 L359.25 145.15 L359.40 144.84 L359.55 145.69 L359.70 145.14 L359.85 145.32 L360.00 145.24 L360.15 146.00 L360.30 145.26 L360.45 145.44 L360.60 145.21 L360.75 145.49 L360.90 145.07 L361.05 145.39 L361.20 145.23 L361.35 144.96 L361.50 145.42 L361.65 145.11 L361.80 145.40 L361.95 145.29 L362.10 145.69 L362.25 145.19 L362.40 145.02 L362.55 145.52 L362.70 145.19 L362.85 145.33 L363.00 145.92 L363.15 145.36 L363.30 144.99 L363.45 145.68 L363.60 146.00 L363.75 145.42 L363.90 145.74 L364.05 144.78 L364.20 145.51 L364.35 145.50 L364.50 145.74 L364.65 145.41 L364.80 145.71 L364.95 145.84 L365.10 145.53 L365.25 145.81 L365.40 145.01 L365.55 145.94 L365.70 145.53 L365.85 145.77 L366.00 146.00 L366.15 144.89 L366.30 146.00 L366.45 144.97 L366.60 146.00 L366.75 145.48 L366.90 144.68 L367.05 146.00 L367.20 146.00 L367.35 145.04 L367.50 145.46 L367.65 145.72 L367.80 145.54 L367.95 145.88 L368.10 145.48 L368.25 144.99 L368.40 145.67 L368.55 145.48 L368.70 145.10 L368.85 144.82 L369.00 145.75 L369.15 145.43 L369.30 145.75 L369.45 145.78 L369.60 145.69 L369.75 145.78 L369.90 146.00 L370.05 146.00 L370.20 145.82 L370.35 145.51 L370.50 145.14 L370.65 145.75 L370.80 145.63 L370.95 145.34 L371.10 145.32 L371.25 145.62 L371.40 145.60 L371.55 144.94 L371.70 145.70 L371.85 145.75 L372.00 146.00 L372.15 145.45 L372.30 145.68 L372.45 144.96 L372.60 145.71 L372.75 145.34 L372.90 145.30 L373.05 145.07 L373.20 146.00 L373.35 145.11 L373.50 145.62 L373.65 145.66 L373.80 145.73 L373.95 145.76 L374.10 145.75 L374.25 146.00 L374.40 145.48 L374.55 145.63 L374.70 145.95 L374.85 145.68 L375.00 144.95 L375.15 145.55 L375.30 145.79 L375.45 145.16 L375.60 145.92 L375.75 145.73 L375.90 145.85 L376.05 145.76 L376.20 145.49 L376.35 145.55 L376.50 145.93 L376.65 145.78 L376.80 145.75 L376.95 145.90 L377.10 145.83 L377.25 146.00 L377.40 146.00 L377.55 145.91 L377.70 146.00 L377.85 145.94" fill="none" stroke="#000" stroke-width="0.5" stroke-opacity="0.7" stroke-linejoin="round"/>
<path d="M298.80 146.00 L298.95 138.44 L299.10 134.46 L299.25 131.12 L299.40 120.33 L299.55 125.42 L299.70 115.83 L299.85 119.41 L300.00 112.49 L300.15 110.92 L300.30 109.84 L300.45 114.11 L300.60 105.46 L300.75 103.84 L300.90 105.72 L301.05 101.52 L301.20 96.67 L301.35 101.94 L301.50 97.21 L301.65 101.38 L301.80 94.21 L301.95 91.79 L302.10 83.01 L302.25 87.78 L302.40 88.29 L302.55 82.98 L302.70 91.80 L302.85 82.28 L303.00 88.40 L303.15 88.22 L303.30 80.47 L303.45 83.65 L303.60 78.54 L303.75 89.98 L303.90 82.20 L304.05 85.26 L304.20 83.82 L304.35 90.59 L304.50 77.98 L304.65 80.88 L304.80 85.87 L304.95 87.26 L305.10 85.05 L305.25 75.05 L305.40 81.54 L305.55 82.55 L305.70 79.00 L305.85 81.23 L306.00 80.46 L306.15 78.49 L306.30 80.59 L306.45 78.59 L306.60 87.92 L306.75 82.97 L306.90 85.24 L307.05 83.79 L307.20 84.96 L307.35 88.04 L307.50 87.42 L307.65 82.63 L307.80 86.31 L307.95 92.96 L308.10 86.10 L308.25 85.51 L308.40 91.67 L308.55 91.33 L308.70 96.47 L308.85 95.34 L309.00 91.67 L309.15 94.15 L309.30 97.76 L309.45 100.27 L309.60 105.98 L309.75 99.58 L309.90 99.76 L310.05 98.29 L310.20 95.52 L310.35 101.94 L310.50 100.48 L310.65 108.26 L310.80 100.74 L310.95 102.43 L311.10 101.25 L311.25 104.09 L311.40 105.32 L311.55 102.34 L311.70 108.94 L311.85 106.05 L312.00 105.06 L312.15 111.62 L312.30 113.24 L312.45 108.53 L312.60 109.98 L312.75 108.89 L312.90 109.25 L313.05 114.17 L313.20 111.19 L313.35 109.26 L313.50 114.34 L313.65 114.63 L313.80 117.69 L313.95 112.35 L314.10 109.52 L314.25 119.87 L314.40 114.14 L314.55 114.27 L314.70 119.01 L314.85 118.98 L315.00 121.38 L315.15 121.14 L315.30 119.02 L315.45 118.20 L315.60 120.17 L315.75 118.70 L315.90 120.95 L316.05 125.05 L316.20 118.69 L316.35 119.89 L316.50 125.22 L316.65 119.40 L316.80 123.15 L316.95 124.44 L317.10 120.51 L317.25 131.66 L317.40 129.87 L317.55 124.76 L317.70 127.43 L317.85 129.45 L318.00 124.21 L318.15 126.97 L318.30 131.34 L318.45 130.35 L318.60 127.44 L318.75 125.82 L318.90 134.36 L319.05 129.95 L319.20 131.66 L319.35 134.84 L319.50 131.97 L319.65 135.22 L319.80 133.45 L319.95 129.61 L320.10 132.14 L320.25 132.01 L320.40 132.73 L320.55 133.38 L320.70 132.78 L320.85 136.96 L321.00 135.84 L321.15 134.06 L321.30 137.10 L321.45 136.91 L321.60 134.49 L321.75 134.28 L321.90 138.04 L322.05 138.63 L322.20 136.72 L322.35 137.48 L322.50 139.16 L322.65 137.52 L322.80 137.84 L322.95 138.76 L323.10 134.97 L323.25 137.43 L323.40 138.42 L323.55 138.37 L323.70 136.06 L323.85 138.74 L324.00 141.27 L324.15 140.16 L324.30 140.67 L324.45 141.63 L324.60 140.83 L324.75 141.03 L324.90 141.56 L325.05 142.21 L325.20 140.94 L325.35 143.71 L325.50 141.30 L325.65 142.31 L325.80 142.19 L325.95 144.95 L326.10 141.13 L326.25 144.51 L326.40 143.81 L326.55 142.55 L326.70 143.79 L326.85 143.71 L327.00 145.36 L327.15 143.93 L327.30 143.49 L327.45 143.23 L327.60 144.09 L327.75 143.80 L327.90 143.74 L328.05 144.65 L328.20 144.79 L328.35 143.01 L328.50 145.01 L328.65 143.74 L328.80 144.58 L328.95 143.81 L329.10 145.16 L329.25 144.57 L329.40 144.75 L329.55 145.12 L329.70 144.91 L329.85 145.51 L330.00 145.22 L330.15 145.41 L330.30 144.92 L330.45 145.35 L330.60 145.94 L330.75 145.52 L330.90 145.42 L331.05 145.76 L331.20 144.84 L331.35 145.23 L331.50 145.06 L331.65 145.72 L331.80 145.58 L331.95 145.02 L332.10 146.00 L332.25 145.29 L332.40 145.41 L332.55 145.65 L332.70 145.42 L332.85 145.88 L333.00 145.38 L333.15 145.94 L333.30 145.97 L333.45 144.95 L333.60 145.75 L333.75 146.00 L333.90 145.13 L334.05 145.79 L334.20 146.00 L334.35 145.53 L334.50 145.17 L334.65 145.39 L334.80 144.89 L334.95 145.57 L335.10 145.31 L335.25 145.90 L335.40 145.48 L335.55 144.99 L335.70 145.36 L335.85 145.49 L336.00 146.00 L336.15 145.68 L336.30 146.00 L336.45 145.28 L336.60 145.82 L336.75 145.43 L336.90 145.91 L337.05 144.90 L337.20 145.98 L337.35 145.52 L337.50 144.66 L337.65 145.50 L337.80 145.88 L337.95 145.36 L338.10 145.23 L338.25 145.28 L338.40 146.00 L338.55 145.50 L338.70 146.00 L338.85 144.93 L339.00 145.56 L339.15 145.74 L339.30 145.35 L339.45 145.42 L339.60 145.99 L339.75 145.03 L339.90 145.67 L340.05 146.00 L340.20 145.10 L340.35 145.06 L340.50 145.15 L340.65 145.39 L340.80 145.89 L340.95 145.26 L341.10 144.94 L341.25 145.30 L341.40 145.03 L341.55 145.85 L341.70 145.23 L341.85 145.26 L342.00 146.00 L342.15 146.00 L342.30 145.83 L342.45 145.55 L342.60 145.42 L342.75 145.66 L342.90 145.60 L343.05 145.61 L343.20 145.54 L343.35 145.37 L343.50 145.40 L343.65 145.59 L343.80 145.48 L343.95 145.73 L344.10 145.29 L344.25 145.75 L344.40 144.99 L344.55 145.58 L344.70 145.47 L344.85 145.83 L345.00 145.69 L345.15 145.51 L345.30 145.56 L345.45 145.78 L345.60 145.97 L345.75 145.55 L345.90 145.51 L346.05 145.36 L346.20 145.12 L346.35 145.67 L346.50 146.00 L346.65 145.61 L346.80 146.00 L346.95 146.00 L347.10 145.18 L347.25 145.35 L347.40 145.78 L347.55 145.78 L347.70 145.58 L347.85 146.00 L348.00 145.37 L348.15 145.67 L348.30 144.88 L348.45 145.93 L348.60 145.18 L348.75 145.79 L348.90 145.17 L349.05 145.89 L349.20 145.27 L349.35 145.70 L349.50 145.83 L349.65 145.59 L349.80 145.36 L349.95 145.38 L350.10 144.95 L350.25 145.23 L350.40 146.00 L350.55 145.67 L350.70 146.00 L350.85 145.66 L351.00 145.29 L351.15 146.00 L351.30 145.96 L351.45 145.46 L351.60 145.62 L351.75 144.93 L351.90 145.39 L352.05 145.31 L352.20 144.86 L352.35 145.70 L352.50 145.51 L352.65 145.88 L352.80 145.41 L352.95 145.12 L353.10 144.99 L353.25 145.52 L353.40 145.77 L353.55 145.79 L353.70 146.00 L353.85 145.45 L354.00 144.98 L354.15 146.00 L354.30 146.00 L354.45 144.96 L354.60 146.00 L354.75 145.37 L354.90 145.97 L355.05 145.19 L355.20 145.19 L355.35 145.43 L355.50 145.17 L355.65 145.47 L355.80 145.27 L355.95 144.79 L356.10 145.06 L356.25 145.74 L356.40 145.79 L356.55 145.58 L356.70 145.57 L356.85 145.45 L357.00 145.71 L357.15 145.23 L357.30 145.46 L357.45 145.34 L357.60 145.48 L357.75 145.24 L357.90 145.94 L358.05 144.86 L358.20 145.34 L358.35 145.30 L358.50 145.24 L358.65 145.05 L358.80 145.19 L358.95 145.38 L359.10 145.54 L359.25 146.00 L359.40 145.39 L359.55 145.59 L359.70 145.59 L359.85 144.54 L360.00 146.00 L360.15 145.45 L360.30 145.00 L360.45 145.10 L360.60 144.99 L360.75 145.96 L360.90 145.84 L361.05 145.23 L361.20 145.59 L361.35 144.81 L361.50 145.38 L361.65 145.40 L361.80 145.30 L361.95 145.58 L362.10 145.43 L362.25 145.73 L362.40 145.49 L362.55 145.66 L362.70 145.37 L362.85 146.00 L363.00 146.00 L363.15 145.30 L363.30 145.39 L363.45 145.85 L363.60 145.56 L363.75 145.88 L363.90 144.69 L364.05 146.00 L364.20 144.82 L364.35 145.79 L364.50 145.32 L364.65 145.58 L364.80 145.63 L364.95 145.12 L365.10 145.17 L365.25 145.59 L365.40 145.83 L365.55 144.69 L365.70 144.95 L365.85 145.43 L366.00 145.60 L366.15 145.38 L366.30 145.46 L366.45 145.04 L366.60 145.86 L366.75 145.49 L366.90 145.79 L367.05 145.01 L367.20 144.82 L367.35 145.53 L367.50 145.30 L367.65 144.98 L367.80 145.62 L367.95 145.85 L368.10 145.12 L368.25 145.32 L368.40 145.59 L368.55 144.97 L368.70 145.43 L368.85 146.00 L369.00 145.39 L369.15 145.54 L369.30 144.84 L369.45 145.53 L369.60 145.60 L369.75 145.37 L369.90 145.44 L370.05 146.00 L370.20 145.49 L370.35 145.66 L370.50 145.04 L370.65 144.69 L370.80 145.95 L370.95 145.89 L371.10 145.85 L371.25 145.79 L371.40 145.80 L371.55 145.54 L371.70 145.18 L371.85 146.00 L372.00 146.00 L372.15 146.00 L372.30 145.20 L372.45 145.12 L372.60 146.00 L372.75 146.00 L372.90 145.55 L373.05 145.22 L373.20 145.26 L373.35 145.53 L373.50 145.38 L373.65 145.50 L373.80 145.79 L373.95 144.99 L374.10 145.62 L374.25 145.98 L374.40 145.78 L374.55 146.00 L374.70 145.63 L374.85 145.29 L375.00 146.00 L375.15 145.29 L375.30 145.00 L375.45 145.54 L375.60 146.00 L375.75 145.92 L375.90 145.77 L376.05 146.00 L376.20 146.00 L376.35 145.77 L376.50 145.76 L376.65 145.57 L376.80 146.00 L376.95 145.33 L377.10 145.57 L377.25 145.66 L377.40 145.99 L377.55 145.63 L377.70 145.98 L377.85 145.81" fill="none" stroke="#000" stroke-width="0.5" stroke-opacity="0.7" stroke-linejoin="round"/>
<path d="M298.80 146.00 L298.95 140.52 L299.10 133.03 L299.25 128.66 L299.40 126.78 L299.55 121.35 L299.70 117.27 L299.85 114.60 L300.00 110.41 L300.15 115.92 L300.30 113.34 L300.45 103.59 L300.60 106.44 L300.75 98.98 L300.90 99.10 L301.05 106.47 L301.20 98.01 L301.35 102.93 L301.50 96.90 L301.65 91.86 L301.80 86.93 L301.95 94.30 L302.10 89.70 L302.25 89.89 L302.40 86.42 L302.55 98.88 L302.70 89.07 L302.85 85.21 L303.00 80.58 L303.15 88.64 L303.30 81.19 L303.45 79.47 L303.60 83.61 L303.75 84.51 L303.90 84.69 L304.05 82.09 L304.20 77.05 L304.35 75.28 L304.50 83.89 L304.65 85.73 L304.80 84.89 L304.95 76.64 L305.10 79.97 L305.25 79.52 L305.40 78.63 L305.55 79.11 L305.70 81.44 L305.85 85.74 L306.00 84.01 L306.15 80.90 L306.30 79.99 L306.45 83.79 L306.60 84.40 L306.75 76.86 L306.90 85.55 L307.05 83.01 L307.20 85.96 L307.35 88.91 L307.50 92.36 L307.65 88.68 L307.80 90.53 L307.95 83.96 L308.10 93.22 L308.25 90.99 L308.40 87.62 L308.55 92.10 L308.70 90.95 L308.85 90.98 L309.00 102.33 L309.15 98.61 L309.30 101.86 L309.45 93.89 L309.60 100.29 L309.75 98.67 L309.90 94.85 L310.05 103.21 L310.20 102.23 L310.35 101.60 L310.50 104.65 L310.65 99.67 L310.80 101.80 L310.95 101.67 L311.10 105.58 L311.25 107.44 L311.40 107.94 L311.55 108.43 L311.70 113.30 L311.85 106.80 L312.00 105.70 L312.15 108.96 L312.30 111.04 L312.45 109.68 L312.60 109.50 L312.75 109.62 L312.90 105.24 L313.05 114.45 L313.20 110.95 L313.35 110.42 L313.50 112.90 L313.65 114.41 L313.80 117.41 L313.95 116.56 L314.10 113.04 L314.25 111.29 L314.40 118.27 L314.55 115.38 L314.70 115.77 L314.85 114.86 L315.00 117.65 L315.15 117.60 L315.30 116.83 L315.45 123.23 L315.60 120.29 L315.75 125.84 L315.90 126.86 L316.05 124.16 L316.20 126.56 L316.35 121.53 L316.50 120.72 L316.65 124.61 L316.80 124.63 L316.95 125.31 L317.10 125.81 L317.25 125.23 L317.40 125.11 L317.55 127.53 L317.70 128.56 L317.85 128.47 L318.00 125.73 L318.15 129.03 L318.30 125.08 L318.45 129.41 L318.60 126.16 L318.75 132.33 L318.90 131.59 L319.05 129.41 L319.20 129.79 L319.35 131.51 L319.50 127.33 L319.65 131.85 L319.80 131.78 L319.95 133.89 L320.10 129.82 L320.25 131.80 L320.40 133.04 L320.55 137.29 L320.70 133.85 L320.85 135.73 L321.00 134.49 L321.15 133.90 L321.30 137.17 L321.45 135.79 L321.60 134.98 L321.75 136.50 L321.90 137.61 L322.05 139.07 L322.20 138.69 L322.35 139.89 L322.50 136.63 L322.65 138.25 L322.80 140.46 L322.95 138.88 L323.10 140.97 L323.25 144.00 L323.40 137.85 L323.55 138.14 L323.70 141.96 L323.85 141.12 L324.00 140.10 L324.15 141.06 L324.30 141.84 L324.45 141.59 L324.60 141.44 L324.75 141.98 L324.90 141.26 L325.05 141.94 L325.20 142.70 L325.35 141.99 L325.50 143.96 L325.65 140.81 L325.80 144.27 L325.95 142.71 L326.10 142.43 L326.25 142.49 L326.40 142.78 L326.55 141.97 L326.70 144.28 L326.85 143.43 L327.00 143.35 L327.15 144.00 L327.30 144.17 L327.45 142.73 L327.60 144.45 L327.75 144.35 L327.90 144.29 L328.05 144.33 L328.20 144.15 L328.35 144.51 L328.50 144.20 L328.65 144.46 L328.80 144.33 L328.95 143.87 L329.10 145.30 L329.25 143.92 L329.40 145.20 L329.55 144.65 L329.70 144.99 L329.85 145.29 L330.00 146.00 L330.15 144.47 L330.30 145.63 L330.45 145.67 L330.60 144.88 L330.75 145.33 L330.90 144.57 L331.05 144.68 L331.20 145.10 L331.35 145.30 L331.50 145.10 L331.65 145.97 L331.80 145.36 L331.95 145.37 L332.10 145.63 L332.25 145.34 L332.40 146.00 L332.55 145.10 L332.70 144.95 L332.85 145.98 L333.00 145.42 L333.15 144.87 L333.30 145.32 L333.45 145.89 L333.60 145.88 L333.75 145.17 L333.90 144.80 L334.05 145.92 L334.20 145.50 L334.35 145.81 L334.50 145.63 L334.65 145.41 L334.80 145.55 L334.95 145.79 L335.10 144.76 L335.25 145.60 L335.40 145.61 L335.55 145.14 L335.70 145.55 L335.85 145.63 L336.00 145.21 L336.15 145.93 L336.30 145.29 L336.45 145.20 L336.60 145.33 L336.75 145.63 L336.90 145.57 L337.05 146.00 L337.20 145.62 L337.35 145.48 L337.50 145.28 L337.65 145.53 L337.80 145.72 L337.95 145.88 L338.10 145.60 L338.25 145.54 L338.40 145.17 L338.55 145.59 L338.70 145.76 L338.85 145.63 L339.00 145.76 L339.15 145.67 L339.30 146.00 L339.45 146.00 L339.60 146.00 L339.75 145.43 L339.90 145.62 L340.05 145.54 L340.20 145.19 L340.35 145.95 L340.50 145.20 L340.65 145.46 L340.80 145.84 L340.95 145.08 L341.10 146.00 L341.25 145.98 L341.40 145.66 L341.55 145.45 L341.70 145.66 L341.85 146.00 L342.00 145.69 L342.15 145.62 L342.30 144.71 L342.45 145.12 L342.60 145.55 L342.75 145.97 L342.90 145.47 L343.05 145.99 L343.20 145.52 L343.35 145.46 L343.50 145.73 L343.65 145.50 L343.80 145.70 L343.95 145.78 L344.10 145.05 L344.25 145.38 L344.40 145.69 L344.55 145.85 L344.70 145.52 L344.85 145.38 L345.00 145.28 L345.15 145.06 L345.30 145.42 L345.45 145.97 L345.60 144.86 L345.75 145.17 L345.90 145.28 L346.05 145.10 L346.20 146.00 L346.35 145.70 L346.50 145.75 L346.65 145.15 L346.80 145.99 L346.95 145.68 L347.10 145.03 L347.25 145.33 L347.40 145.70 L347.55 144.89 L347.70 146.00 L347.85 145.40 L348.00 145.64 L348.15 145.38 L348.30 145.66 L348.45 145.86 L348.60 145.48 L348.75 146.00 L348.90 145.36 L349.05 145.67 L349.20 145.22 L349.35 145.71 L349.50 145.79 L349.65 145.40 L349.80 145.10 L349.95 146.00 L350.10 145.50 L350.25 145.32 L350.40 146.00 L350.55 145.86 L350.70 145.31 L350.85 145.84 L351.00 145.77 L351.15 144.91 L351.30 145.88 L351.45 145.85 L351.60 146.00 L351.75 145.94 L351.90 145.99 L352.05 144.90 L352.20 145.08 L352.35 146.00 L352.50 144.80 L352.65 145.24 L352.80 145.59 L352.95 145.22 L353.10 145.38 L353.25 145.81 L353.40 146.00 L353.55 145.86 L353.70 145.52 L353.85 145.65 L354.00 145.80 L354.15 145.15 L354.30 145.92 L354.45 145.18 L354.60 145.70 L354.75 145.47 L354.90 145.94 L355.05 145.52 L355.20 145.81 L355.35 146.00 L355.50 145.52 L355.65 145.53 L355.80 145.19 L355.95 145.40 L356.10 145.89 L356.25 145.74 L356.40 146.00 L356.55 145.93 L356.70 145.01 L356.85 144.93 L357.00 145.21 L357.15 145.39 L357.30 145.28 L357.45 145.32 L357.60 146.00 L357.75 145.83 L357.90 145.05 L358.05 145.05 L358.20 145.41 L358.35 145.62 L358.50 145.65 L358.65 145.71 L358.80 145.85 L358.95 146.00 L359.10 145.44 L359.25 145.67 L359.40 145.58 L359.55 144.84 L359.70 145.27 L359.85 145.77 L360.00 145.27 L360.15 146.00 L360.30 145.09 L360.45 145.40 L360.60 145.57 L360.75 145.28 L360.90 144.94 L361.05 145.68 L361.20 145.88 L361.35 144.69 L361.50 145.49 L361.65 144.93 L361.80 145.76 L361.95 145.35 L362.10 145.75 L362.25 145.26 L362.40 145.61 L362.55 145.76 L362.70 144.91 L362.85 145.37 L363.00 146.00 L363.15 145.59 L363.30 145.86 L363.45 145.97 L363.60 145.73 L363.75 145.69 L363.90 145.49 L364.05 145.81 L364.20 146.00 L364.35 145.71 L364.50 145.18 L364.65 146.00 L364.80 145.28 L364.95 145.34 L365.10 145.68 L365.25 145.40 L365.40 145.80 L365.55 145.67 L365.70 145.90 L365.85 145.34 L366.00 145.00 L366.15 145.78 L366.30 145.07 L366.45 146.00 L366.60 145.86 L366.75 145.91 L366.90 144.88 L367.05 145.75 L367.20 145.24 L367.35 146.00 L367.50 145.49 L367.65 145.33 L367.80 145.55 L367.95 146.00 L368.10 145.48 L368.25 145.24 L368.40 145.06 L368.55 145.40 L368.70 146.00 L368.85 145.63 L369.00 145.22 L369.15 145.85 L369.30 145.35 L369.45 145.73 L369.60 145.53 L369.75 145.29 L369.90 145.82 L370.05 144.54 L370.20 145.52 L370.35 145.45 L370.50 145.84 L370.65 145.56 L370.80 145.68 L370.95 146.00 L371.10 146.00 L371.25 145.49 L371.40 145.62 L371.55 146.00 L371.70 146.00 L371.85 145.71 L372.00 145.63 L372.15 145.40 L372.30 146.00 L372.45 145.41 L372.60 145.72 L372.75 145.79 L372.90 145.67 L373.05 145.29 L373.20 145.44 L373.35 145.33 L373.50 145.86 L373.65 145.73 L373.80 146.00 L373.95 145.83 L374.10 145.78 L374.25 145.80 L374.40 145.43 L374.55 145.52 L374.70 145.42 L374.85 145.63 L375.00 145.33 L375.15 145.64 L375.30 145.38 L375.45 145.53 L375.60 145.46 L375.75 145.71 L375.90 146.00 L376.05 146.00 L376.20 145.13 L376.35 145.61 L376.50 145.62 L376.65 145.80 L376.80 145.90 L376.95 145.11 L377.10 146.00 L377.25 145.87 L377.40 145.90 L377.55 146.00 L377.70 146.00 L377.85 146.00" fill="none" stroke="#000" stroke-width="0.5" stroke-opacity="0.7" stroke-linejoin="round"/>
<path d="M298.80 146.00 L299.00 140.08 L299.20 135.60 L299.40 127.90 L299.60 125.64 L299.80 121.86 L300.00 122.25 L300.20 114.97 L300.40 114.62 L300.60 111.59 L300.80 104.98 L301.00 109.18 L301.20 105.00 L301.40 101.15 L301.60 98.33 L301.80 102.35 L302.00 98.67 L302.20 97.63 L302.40 100.93 L302.60 102.82 L302.80 100.59 L303.00 90.46 L303.20 90.41 L303.40 93.80 L303.60 90.01 L303.80 88.09 L304.00 87.28 L304.20 85.69 L304.40 77.27 L304.60 87.63 L304.80 83.96 L305.00 86.95 L305.20 86.17 L305.40 86.84 L305.60 84.28 L305.80 85.28 L306.00 81.87 L306.20 82.28 L306.40 86.27 L306.60 76.01 L306.80 87.34 L307.00 81.89 L307.20 75.46 L307.40 86.17 L307.60 79.03 L307.80 79.02 L308.00 83.28 L308.20 91.52 L308.40 80.21 L308.60 85.41 L308.80 88.15 L309.00 82.18 L309.20 89.77 L309.40 84.00 L309.60 90.22 L309.80 87.26 L310.00 93.85 L310.20 92.70 L310.40 95.74 L310.60 96.40 L310.80 94.81 L311.00 97.30 L311.20 97.37 L311.40 95.00 L311.60 100.29 L311.80 106.50 L312.00 102.42 L312.20 102.05 L312.40 99.95 L312.60 100.63 L312.80 101.58 L313.00 105.72 L313.20 103.81 L313.40 110.49 L313.60 103.21 L313.80 106.27 L314.00 106.68 L314.20 109.76 L314.40 109.13 L314.60 111.72 L314.80 108.91 L315.00 114.67 L315.20 109.05 L315.40 110.84 L315.60 107.57 L315.80 113.66 L316.00 114.44 L316.20 114.34 L316.40 115.39 L316.60 116.40 L316.80 119.51 L317.00 120.13 L317.20 119.43 L317.40 119.38 L317.60 122.14 L317.80 122.67 L318.00 121.23 L318.20 119.49 L318.40 122.23 L318.60 120.88 L318.80 120.85 L319.00 121.90 L319.20 125.05 L319.40 125.57 L319.60 129.16 L319.80 127.21 L320.00 125.38 L320.20 129.05 L320.40 124.71 L320.60 125.12 L320.80 129.16 L321.00 127.23 L321.20 132.00 L321.40 131.94 L321.60 131.20 L321.80 131.02 L322.00 131.87 L322.20 133.52 L322.40 129.22 L322.60 132.54 L322.80 133.03 L323.00 132.89 L323.20 134.16 L323.40 135.24 L323.60 136.17 L323.80 138.18 L324.00 134.05 L324.20 137.91 L324.40 139.30 L324.60 138.49 L324.80 139.89 L325.00 135.58 L325.20 138.04 L325.40 137.10 L325.60 137.41 L325.80 138.81 L326.00 139.14 L326.20 140.90 L326.40 140.49 L326.60 141.33 L326.80 140.93 L327.00 141.95 L327.20 140.29 L327.40 141.06 L327.60 142.13 L327.80 143.76 L328.00 141.92 L328.20 142.00 L328.40 142.99 L328.60 144.12 L328.80 143.00 L329.00 142.74 L329.20 145.01 L329.40 143.46 L329.60 145.19 L329.80 144.14 L330.00 143.33 L330.20 144.47 L330.40 144.42 L330.60 144.98 L330.80 144.96 L331.00 144.04 L331.20 144.63 L331.40 145.39 L331.60 145.48 L331.80 145.37 L332.00 144.62 L332.20 145.33 L332.40 145.03 L332.60 145.55 L332.80 145.87 L333.00 144.98 L333.20 145.47 L333.40 145.72 L333.60 145.69 L333.80 145.69 L334.00 145.68 L334.20 145.99 L334.40 145.09 L334.60 145.37 L334.80 145.18 L335.00 145.62 L335.20 145.40 L335.40 145.46 L335.60 145.15 L335.80 145.27 L336.00 145.42 L336.20 145.74 L336.40 145.91 L336.60 145.79 L336.80 145.74 L337.00 145.72 L337.20 145.93 L337.40 145.06 L337.60 145.48 L337.80 146.00 L338.00 145.90 L338.20 145.98 L338.40 145.51 L338.60 145.27 L338.80 145.88 L339.00 145.41 L339.20 145.67 L339.40 145.26 L339.60 145.20 L339.80 145.51 L340.00 145.40 L340.20 145.61 L340.40 145.71 L340.60 145.94 L340.80 145.52 L341.00 145.63 L341.20 145.73 L341.40 145.64 L341.60 145.67 L341.80 145.91 L342.00 145.77 L342.20 145.31 L342.40 145.69 L342.60 145.24 L342.80 145.95 L343.00 146.00 L343.20 145.60 L343.40 145.42 L343.60 145.82 L343.80 145.47 L344.00 145.39 L344.20 145.35 L344.40 145.68 L344.60 145.66 L344.80 146.00 L345.00 145.64 L345.20 145.58 L345.40 145.28 L345.60 146.00 L345.80 145.88 L346.00 145.93 L346.20 145.42 L346.40 146.00 L346.60 145.95 L346.80 145.12 L347.00 145.50 L347.20 146.00 L347.40 145.69 L347.60 145.45 L347.80 145.53 L348.00 145.73 L348.20 145.88 L348.40 145.47 L348.60 145.68 L348.80 145.48 L349.00 145.59 L349.20 145.81 L349.40 145.33 L349.60 145.82 L349.80 145.59 L350.00 145.86 L350.20 145.76 L350.40 145.77 L350.60 145.87 L350.80 145.65 L351.00 145.39 L351.20 145.27 L351.40 145.37 L351.60 145.76 L351.80 145.38 L352.00 145.63 L352.20 145.30 L352.40 146.00 L352.60 145.39 L352.80 145.88 L353.00 145.47 L353.20 145.85 L353.40 145.53 L353.60 145.81 L353.80 146.00 L354.00 145.97 L354.20 145.81 L354.40 145.75 L354.60 146.00 L354.80 146.00 L355.00 145.93 L355.20 145.81 L355.40 145.72 L355.60 145.95 L355.80 146.00 L356.00 145.71 L356.20 145.85 L356.40 145.59 L356.60 145.90 L356.80 145.65 L357.00 145.97 L357.20 145.74 L357.40 145.78 L357.60 145.71 L357.80 145.99 L358.00 145.83 L358.20 145.97 L358.40 145.84 L358.60 145.69 L358.80 145.22 L359.00 145.81 L359.20 145.68 L359.40 145.80 L359.60 145.60 L359.80 145.74 L360.00 145.63 L360.20 145.76 L360.40 145.38 L360.60 145.58 L360.80 146.00 L361.00 145.78 L361.20 145.83 L361.40 146.00 L361.60 146.00 L361.80 145.93 L362.00 145.98 L362.20 145.83 L362.40 146.00 L362.60 145.73 L362.80 145.73 L363.00 145.80 L363.20 145.92 L363.40 145.86 L363.60 145.94 L363.80 145.68 L364.00 145.79 L364.20 145.55 L364.40 145.93 L364.60 145.65 L364.80 145.97 L365.00 145.91 L365.20 146.00 L365.40 145.81 L365.60 145.90 L365.80 145.80 L366.00 145.67 L366.20 145.90 L366.40 145.84 L366.60 145.77 L366.80 145.91 L367.00 145.98 L367.20 145.86 L367.40 145.84 L367.60 145.80 L367.80 145.80 L368.00 146.00 L368.20 145.86 L368.40 145.76 L368.60 145.98 L368.80 145.87 L369.00 146.00 L369.20 145.90 L369.40 145.72 L369.60 145.91 L369.80 146.00 L370.00 145.89 L370.20 145.91 L370.40 145.81 L370.60 146.00 L370.80 146.00 L371.00 145.95 L371.20 146.00 L371.40 145.83 L371.60 146.00 L371.80 146.00 L372.00 146.00 L372.20 146.00 L372.40 145.88 L372.60 145.90 L372.80 145.87 L373.00 145.91 L373.20 146.00 L373.40 145.94 L373.60 146.00 L373.80 146.00 L374.00 146.00 L374.20 146.00 L374.40 145.93 L374.60 146.00 L374.80 145.85 L375.00 145.94 L375.20 145.90 L375.40 145.93 L375.60 145.93 L375.80 145.99 L376.00 145.88 L376.20 146.00 L376.40 145.97 L376.60 145.99 L376.80 146.00 L377.00 145.98 L377.20 146.00 L377.40 145.97 L377.60 145.98 L377.80 146.00" fill="none" stroke="#333" stroke-width="0.85" stroke-opacity="0.85" stroke-linejoin="round"/>
<line x1="47.40" y1="168.80" x2="47.40" y2="255.50" stroke="#9a9a9a" stroke-width="0.8" />
<line x1="44.90" y1="255.50" x2="151.00" y2="255.50" stroke="#8a8a8a" stroke-width="0.8" />
<rect x="44.10" y="166.80" width="1.40" height="4.20" fill="#999" stroke="none" stroke-width="0"/>
<rect x="45.80" y="257.10" width="3.40" height="1.60" fill="#b0b0b0" stroke="none" stroke-width="0"/>
<rect x="71.70" y="257.10" width="3.40" height="1.60" fill="#b0b0b0" stroke="none" stroke-width="0"/>
<rect x="97.60" y="257.10" width="3.40" height="1.60" fill="#b0b0b0" stroke="none" stroke-width="0"/>
<rect x="123.50" y="257.10" width="3.40" height="1.60" fill="#b0b0b0" stroke="none" stroke-width="0"/>
<rect x="149.40" y="257.10" width="3.40" height="1.60" fill="#b0b0b0" stroke="none" stroke-width="0"/>
<path d="M50.00 255.50 L50.20 255.46 L50.40 255.50 L50.60 255.50 L50.80 255.44 L51.00 255.48 L51.20 255.50 L51.40 255.13 L51.60 255.47 L51.80 255.25 L52.00 255.38 L52.20 255.30 L52.40 255.50 L52.60 254.88 L52.80 255.22 L53.00 254.62 L53.20 255.39 L53.40 255.10 L53.60 254.67 L53.80 254.75 L54.00 255.00 L54.20 254.71 L54.40 255.18 L54.60 254.48 L54.80 255.50 L55.00 254.23 L55.20 253.46 L55.40 253.55 L55.60 253.39 L55.80 254.01 L56.00 253.23 L56.20 253.64 L56.40 253.20 L56.60 252.98 L56.80 255.40 L57.00 251.62 L57.20 251.73 L57.40 251.08 L57.60 252.48 L57.80 250.58 L58.00 250.46 L58.20 253.01 L58.40 252.25 L58.60 249.91 L58.80 250.41 L59.00 249.30 L59.20 249.72 L59.40 246.64 L59.60 250.61 L59.80 249.50 L60.00 248.52 L60.20 248.59 L60.40 246.92 L60.60 245.42 L60.80 246.95 L61.00 243.60 L61.20 241.32 L61.40 240.93 L61.60 238.54 L61.80 239.29 L62.00 240.65 L62.20 236.42 L62.40 237.66 L62.60 234.49 L62.80 237.84 L63.00 241.04 L63.20 238.33 L63.40 234.60 L63.60 232.87 L63.80 233.62 L64.00 229.83 L64.20 233.88 L64.40 231.80 L64.60 226.58 L64.80 227.81 L65.00 226.61 L65.20 222.08 L65.40 221.78 L65.60 225.81 L65.80 222.07 L66.00 226.39 L66.20 220.65 L66.40 218.49 L66.60 223.69 L66.80 213.00 L67.00 210.63 L67.20 214.13 L67.40 211.79 L67.60 208.95 L67.80 213.16 L68.00 208.27 L68.20 209.31 L68.40 214.51 L68.60 210.38 L68.80 209.41 L69.00 202.99 L69.20 205.34 L69.40 201.37 L69.60 205.43 L69.80 207.26 L70.00 194.43 L70.20 190.83 L70.40 197.89 L70.60 198.59 L70.80 191.89 L71.00 198.04 L71.20 191.23 L71.40 192.60 L71.60 182.15 L71.80 181.98 L72.00 184.67 L72.20 185.76 L72.40 189.44 L72.60 186.78 L72.80 178.61 L73.00 185.33 L73.20 179.08 L73.40 188.06 L73.60 185.25 L73.80 187.18 L74.00 186.82 L74.20 183.16 L74.40 195.00 L74.60 184.82 L74.80 186.34 L75.00 190.60 L75.20 191.99 L75.40 194.80 L75.60 192.98 L75.80 196.78 L76.00 201.51 L76.20 199.34 L76.40 197.98 L76.60 201.52 L76.80 204.15 L77.00 204.96 L77.20 208.67 L77.40 209.81 L77.60 215.64 L77.80 211.21 L78.00 208.56 L78.20 213.95 L78.40 216.53 L78.60 211.93 L78.80 215.13 L79.00 216.12 L79.20 216.06 L79.40 216.32 L79.60 219.40 L79.80 222.57 L80.00 215.67 L80.20 221.94 L80.40 225.20 L80.60 223.59 L80.80 221.94 L81.00 229.79 L81.20 223.78 L81.40 228.48 L81.60 224.26 L81.80 228.58 L82.00 231.46 L82.20 229.33 L82.40 230.38 L82.60 235.04 L82.80 234.78 L83.00 237.39 L83.20 235.52 L83.40 241.30 L83.60 240.04 L83.80 244.79 L84.00 241.05 L84.20 246.97 L84.40 246.05 L84.60 245.02 L84.80 246.91 L85.00 247.88 L85.20 249.29 L85.40 249.23 L85.60 251.23 L85.80 249.18 L86.00 249.09 L86.20 249.58 L86.40 250.84 L86.60 249.97 L86.80 251.10 L87.00 251.02 L87.20 251.87 L87.40 252.50 L87.60 253.41 L87.80 255.03 L88.00 252.88 L88.20 253.64 L88.40 252.52 L88.60 255.13 L88.80 253.64 L89.00 254.76 L89.20 254.37 L89.40 254.89 L89.60 254.37 L89.80 254.61 L90.00 254.28 L90.20 254.66 L90.40 254.59 L90.60 254.34 L90.80 254.70 L91.00 254.99 L91.20 254.58 L91.40 255.08 L91.60 254.97 L91.80 255.23 L92.00 255.36 L92.20 255.50 L92.40 255.09 L92.60 255.50 L92.80 255.18 L93.00 255.03 L93.20 255.50 L93.40 255.28 L93.60 255.44 L93.80 255.40 L94.00 255.50 L94.20 255.47 L94.40 255.48 L94.60 255.44 L94.80 255.46" fill="none" stroke="#333" stroke-width="0.85" stroke-opacity="0.85" stroke-linejoin="round"/>
<path d="M55.00 255.50 L55.15 255.50 L55.30 255.49 L55.45 255.49 L55.60 255.42 L55.75 255.50 L55.90 255.50 L56.05 255.39 L56.20 255.49 L56.35 255.29 L56.50 255.03 L56.65 255.41 L56.80 255.30 L56.95 255.50 L57.10 255.20 L57.25 255.32 L57.40 255.33 L57.55 255.16 L57.70 255.50 L57.85 255.23 L58.00 255.24 L58.15 254.91 L58.30 255.50 L58.45 255.38 L58.60 254.68 L58.75 255.46 L58.90 255.47 L59.05 254.75 L59.20 254.49 L59.35 255.27 L59.50 255.50 L59.65 255.50 L59.80 255.43 L59.95 255.50 L60.10 255.50 L60.25 255.21 L60.40 255.25 L60.55 255.08 L60.70 255.24 L60.85 255.50 L61.00 254.94 L61.15 255.13 L61.30 255.46 L61.45 255.33 L61.60 255.08 L61.75 255.17 L61.90 255.25 L62.05 254.86 L62.20 254.72 L62.35 255.31 L62.50 255.18 L62.65 255.50 L62.80 255.23 L62.95 254.93 L63.10 254.74 L63.25 255.06 L63.40 255.17 L63.55 255.46 L63.70 255.02 L63.85 255.50 L64.00 255.04 L64.15 255.09 L64.30 255.50 L64.45 254.93 L64.60 255.19 L64.75 254.78 L64.90 255.32 L65.05 254.82 L65.20 254.26 L65.35 254.96 L65.50 254.64 L65.65 255.38 L65.80 255.22 L65.95 255.50 L66.10 255.11 L66.25 255.50 L66.40 254.95 L66.55 255.50 L66.70 255.47 L66.85 254.95 L67.00 254.77 L67.15 255.50 L67.30 255.21 L67.45 253.52 L67.60 254.51 L67.75 254.86 L67.90 255.50 L68.05 255.48 L68.20 254.63 L68.35 254.79 L68.50 254.65 L68.65 254.34 L68.80 254.85 L68.95 254.38 L69.10 255.50 L69.25 253.35 L69.40 255.06 L69.55 255.26 L69.70 253.92 L69.85 254.46 L70.00 254.22 L70.15 255.22 L70.30 254.64 L70.45 254.35 L70.60 255.50 L70.75 254.93 L70.90 254.94 L71.05 254.96 L71.20 255.23 L71.35 255.50 L71.50 254.44 L71.65 254.55 L71.80 253.91 L71.95 254.74 L72.10 255.16 L72.25 255.50 L72.40 254.59 L72.55 254.87 L72.70 253.16 L72.85 252.92 L73.00 253.42 L73.15 255.25 L73.30 255.50 L73.45 254.72 L73.60 255.21 L73.75 253.38 L73.90 254.38 L74.05 254.77 L74.20 254.43 L74.35 253.36 L74.50 255.15 L74.65 253.92 L74.80 255.43 L74.95 254.45 L75.10 254.81 L75.25 253.91 L75.40 254.02 L75.55 253.02 L75.70 253.44 L75.85 254.61 L76.00 255.26 L76.15 254.73 L76.30 254.29 L76.45 254.02 L76.60 254.48 L76.75 252.40 L76.90 252.41 L77.05 253.63 L77.20 253.76 L77.35 253.31 L77.50 252.90 L77.65 252.70 L77.80 254.69 L77.95 252.91 L78.10 254.81 L78.25 251.86 L78.40 250.69 L78.55 253.17 L78.70 251.04 L78.85 252.10 L79.00 252.05 L79.15 247.30 L79.30 248.90 L79.45 249.39 L79.60 250.84 L79.75 249.08 L79.90 249.99 L80.05 248.53 L80.20 250.96 L80.35 249.11 L80.50 249.54 L80.65 251.43 L80.80 244.71 L80.95 246.28 L81.10 249.50 L81.25 250.78 L81.40 248.91 L81.55 248.93 L81.70 248.17 L81.85 250.05 L82.00 248.20 L82.15 245.79 L82.30 244.65 L82.45 250.31 L82.60 245.08 L82.75 247.31 L82.90 247.19 L83.05 245.01 L83.20 245.68 L83.35 241.63 L83.50 241.27 L83.65 243.71 L83.80 244.34 L83.95 236.80 L84.10 236.41 L84.25 240.33 L84.40 241.56 L84.55 237.69 L84.70 235.92 L84.85 241.59 L85.00 233.91 L85.15 239.68 L85.30 235.25 L85.45 240.03 L85.60 237.69 L85.75 238.96 L85.90 236.85 L86.05 232.92 L86.20 239.00 L86.35 236.36 L86.50 232.76 L86.65 235.81 L86.80 225.96 L86.95 238.34 L87.10 222.55 L87.25 234.08 L87.40 227.06 L87.55 223.79 L87.70 227.38 L87.85 234.58 L88.00 229.53 L88.15 227.18 L88.30 224.39 L88.45 221.89 L88.60 218.08 L88.75 218.19 L88.90 228.13 L89.05 218.68 L89.20 230.30 L89.35 220.90 L89.50 225.78 L89.65 228.39 L89.80 214.83 L89.95 218.56 L90.10 212.81 L90.25 224.65 L90.40 222.15 L90.55 215.84 L90.70 217.96 L90.85 213.43 L91.00 216.19 L91.15 213.90 L91.30 217.31 L91.45 203.62 L91.60 211.36 L91.75 215.29 L91.90 204.48 L92.05 204.91 L92.20 205.84 L92.35 205.37 L92.50 208.47 L92.65 206.68 L92.80 218.04 L92.95 214.08 L93.10 211.96 L93.25 203.12 L93.40 197.53 L93.55 205.12 L93.70 205.45 L93.85 197.24 L94.00 205.54 L94.15 199.47 L94.30 200.55 L94.45 210.49 L94.60 200.86 L94.75 201.34 L94.90 209.04 L95.05 208.27 L95.20 209.56 L95.35 194.13 L95.50 189.77 L95.65 197.89 L95.80 192.87 L95.95 209.84 L96.10 193.85 L96.25 190.61 L96.40 192.76 L96.55 207.68 L96.70 196.03 L96.85 203.11 L97.00 196.35 L97.15 206.44 L97.30 202.82 L97.45 206.36 L97.60 200.53 L97.75 204.05 L97.90 197.32 L98.05 199.21 L98.20 201.80 L98.35 204.63 L98.50 206.40 L98.65 204.94 L98.80 201.01 L98.95 204.82 L99.10 204.22 L99.25 206.37 L99.40 206.91 L99.55 210.59 L99.70 217.83 L99.85 205.03 L100.00 201.08 L100.15 215.06 L100.30 200.55 L100.45 217.82 L100.60 207.36 L100.75 212.12 L100.90 212.59 L101.05 209.11 L101.20 210.81 L101.35 215.88 L101.50 221.80 L101.65 223.07 L101.80 216.60 L101.95 210.30 L102.10 214.21 L102.25 219.08 L102.40 217.78 L102.55 216.53 L102.70 212.06 L102.85 224.20 L103.00 217.62 L103.15 220.12 L103.30 225.32 L103.45 223.89 L103.60 216.77 L103.75 221.45 L103.90 224.29 L104.05 223.27 L104.20 219.71 L104.35 224.07 L104.50 217.79 L104.65 226.41 L104.80 229.09 L104.95 225.42 L105.10 230.53 L105.25 228.41 L105.40 222.17 L105.55 220.62 L105.70 225.59 L105.85 227.85 L106.00 232.83 L106.15 233.62 L106.30 228.50 L106.45 229.77 L106.60 233.18 L106.75 233.08 L106.90 225.72 L107.05 228.41 L107.20 232.46 L107.35 232.24 L107.50 228.77 L107.65 232.64 L107.80 233.54 L107.95 239.57 L108.10 241.32 L108.25 242.47 L108.40 244.03 L108.55 236.56 L108.70 235.79 L108.85 240.29 L109.00 236.23 L109.15 236.63 L109.30 238.74 L109.45 243.46 L109.60 234.60 L109.75 235.25 L109.90 241.83 L110.05 234.38 L110.20 240.65 L110.35 243.56 L110.50 242.79 L110.65 247.42 L110.80 243.37 L110.95 247.31 L111.10 239.95 L111.25 242.63 L111.40 247.67 L111.55 242.74 L111.70 249.16 L111.85 244.61 L112.00 244.16 L112.15 245.56 L112.30 248.84 L112.45 246.69 L112.60 247.19 L112.75 246.95 L112.90 244.02 L113.05 243.93 L113.20 244.55 L113.35 249.65 L113.50 250.14 L113.65 248.79 L113.80 248.20 L113.95 253.41 L114.10 250.74 L114.25 246.33 L114.40 252.29 L114.55 251.50 L114.70 251.59 L114.85 249.60 L115.00 250.75 L115.15 251.36 L115.30 253.54 L115.45 250.09 L115.60 251.26 L115.75 252.50 L115.90 251.53 L116.05 250.49 L116.20 254.11 L116.35 254.32 L116.50 253.64 L116.65 253.53 L116.80 255.50 L116.95 253.35 L117.10 251.17 L117.25 253.23 L117.40 251.61 L117.55 255.50 L117.70 253.28 L117.85 251.59 L118.00 251.52 L118.15 254.03 L118.30 254.48 L118.45 253.24 L118.60 255.04 L118.75 254.21 L118.90 255.50 L119.05 253.91 L119.20 254.06 L119.35 252.62 L119.50 253.88 L119.65 254.85 L119.80 254.40 L119.95 255.47 L120.10 254.39 L120.25 254.64 L120.40 254.16 L120.55 253.80 L120.70 255.50 L120.85 254.35 L121.00 254.09 L121.15 255.50 L121.30 253.34 L121.45 255.24 L121.60 253.07 L121.75 254.27 L121.90 254.19 L122.05 254.68 L122.20 254.25 L122.35 255.50 L122.50 255.42 L122.65 255.50 L122.80 254.69 L122.95 255.42 L123.10 254.64 L123.25 254.76 L123.40 255.50 L123.55 254.78 L123.70 255.02 L123.85 255.08 L124.00 254.99 L124.15 255.22 L124.30 255.23 L124.45 254.83 L124.60 255.50 L124.75 255.50 L124.90 255.50 L125.05 254.98 L125.20 255.45 L125.35 254.78 L125.50 255.50 L125.65 255.50 L125.80 255.50 L125.95 255.35 L126.10 255.13 L126.25 255.47 L126.40 255.50 L126.55 255.32 L126.70 255.23 L126.85 255.50 L127.00 255.41 L127.15 255.46 L127.30 255.50 L127.45 255.50 L127.60 255.48 L127.75 255.50 L127.90 255.50" fill="none" stroke="#000" stroke-width="0.5" stroke-opacity="0.7" stroke-linejoin="round"/>
<path d="M55.00 255.50 L55.15 255.50 L55.30 255.26 L55.45 255.16 L55.60 255.48 L55.75 255.36 L55.90 255.33 L56.05 255.48 L56.20 255.50 L56.35 255.24 L56.50 255.47 L56.65 255.34 L56.80 255.27 L56.95 255.50 L57.10 255.02 L57.25 255.39 L57.40 255.34 L57.55 255.50 L57.70 255.20 L57.85 255.10 L58.00 255.50 L58.15 255.20 L58.30 255.49 L58.45 255.50 L58.60 255.45 L58.75 255.15 L58.90 255.16 L59.05 254.97 L59.20 255.50 L59.35 255.42 L59.50 255.28 L59.65 255.08 L59.80 255.34 L59.95 255.50 L60.10 255.50 L60.25 254.83 L60.40 254.86 L60.55 255.50 L60.70 254.67 L60.85 255.27 L61.00 255.06 L61.15 254.72 L61.30 255.43 L61.45 255.50 L61.60 255.50 L61.75 255.07 L61.90 255.00 L62.05 254.81 L62.20 254.92 L62.35 255.13 L62.50 254.65 L62.65 255.50 L62.80 254.98 L62.95 254.91 L63.10 255.20 L63.25 254.31 L63.40 254.92 L63.55 254.47 L63.70 254.68 L63.85 255.20 L64.00 254.15 L64.15 254.55 L64.30 255.09 L64.45 255.15 L64.60 255.50 L64.75 255.16 L64.90 255.20 L65.05 254.96 L65.20 255.28 L65.35 254.75 L65.50 255.09 L65.65 255.50 L65.80 255.31 L65.95 255.50 L66.10 255.50 L66.25 255.16 L66.40 254.51 L66.55 255.50 L66.70 255.50 L66.85 255.09 L67.00 253.29 L67.15 255.32 L67.30 254.82 L67.45 255.21 L67.60 254.46 L67.75 254.11 L67.90 255.04 L68.05 254.24 L68.20 255.50 L68.35 254.80 L68.50 255.50 L68.65 254.80 L68.80 255.28 L68.95 254.75 L69.10 255.50 L69.25 254.73 L69.40 254.80 L69.55 255.22 L69.70 255.36 L69.85 255.50 L70.00 255.09 L70.15 254.56 L70.30 254.90 L70.45 254.70 L70.60 253.94 L70.75 255.00 L70.90 254.57 L71.05 254.19 L71.20 254.39 L71.35 254.47 L71.50 254.67 L71.65 253.35 L71.80 254.75 L71.95 254.96 L72.10 254.25 L72.25 253.47 L72.40 253.61 L72.55 254.61 L72.70 253.99 L72.85 254.22 L73.00 254.52 L73.15 254.06 L73.30 254.06 L73.45 254.41 L73.60 253.13 L73.75 254.78 L73.90 253.32 L74.05 252.71 L74.20 252.65 L74.35 254.15 L74.50 254.51 L74.65 255.50 L74.80 254.34 L74.95 252.08 L75.10 255.50 L75.25 255.50 L75.40 253.37 L75.55 253.52 L75.70 255.50 L75.85 254.08 L76.00 253.64 L76.15 255.44 L76.30 252.87 L76.45 255.16 L76.60 252.44 L76.75 253.33 L76.90 254.23 L77.05 255.20 L77.20 253.56 L77.35 253.11 L77.50 252.99 L77.65 253.45 L77.80 252.76 L77.95 251.03 L78.10 253.43 L78.25 252.21 L78.40 250.97 L78.55 251.52 L78.70 249.85 L78.85 248.45 L79.00 251.46 L79.15 250.26 L79.30 255.50 L79.45 250.86 L79.60 248.76 L79.75 251.95 L79.90 247.01 L80.05 253.11 L80.20 246.44 L80.35 249.99 L80.50 250.84 L80.65 249.50 L80.80 248.81 L80.95 250.22 L81.10 250.83 L81.25 248.69 L81.40 245.07 L81.55 246.04 L81.70 243.54 L81.85 247.93 L82.00 247.05 L82.15 246.73 L82.30 245.26 L82.45 244.16 L82.60 240.49 L82.75 242.89 L82.90 244.00 L83.05 240.46 L83.20 245.95 L83.35 247.14 L83.50 241.13 L83.65 242.35 L83.80 242.14 L83.95 239.41 L84.10 242.78 L84.25 241.77 L84.40 239.91 L84.55 238.69 L84.70 237.24 L84.85 239.56 L85.00 238.69 L85.15 246.98 L85.30 234.71 L85.45 243.53 L85.60 238.02 L85.75 228.76 L85.90 238.04 L86.05 241.93 L86.20 230.11 L86.35 237.27 L86.50 235.28 L86.65 234.69 L86.80 230.69 L86.95 229.85 L87.10 232.65 L87.25 227.14 L87.40 234.43 L87.55 227.44 L87.70 232.03 L87.85 225.91 L88.00 230.92 L88.15 229.30 L88.30 220.42 L88.45 230.95 L88.60 230.52 L88.75 222.07 L88.90 225.09 L89.05 225.07 L89.20 222.99 L89.35 211.65 L89.50 225.65 L89.65 221.26 L89.80 218.38 L89.95 222.98 L90.10 217.78 L90.25 214.42 L90.40 220.64 L90.55 209.64 L90.70 220.42 L90.85 214.52 L91.00 211.19 L91.15 195.32 L91.30 220.58 L91.45 208.92 L91.60 195.96 L91.75 212.14 L91.90 202.18 L92.05 206.37 L92.20 214.99 L92.35 204.39 L92.50 211.26 L92.65 205.45 L92.80 214.10 L92.95 201.17 L93.10 218.75 L93.25 205.70 L93.40 197.08 L93.55 201.22 L93.70 205.93 L93.85 205.03 L94.00 205.91 L94.15 187.50 L94.30 203.33 L94.45 202.92 L94.60 206.95 L94.75 205.28 L94.90 198.83 L95.05 205.83 L95.20 206.88 L95.35 205.31 L95.50 204.10 L95.65 200.99 L95.80 204.84 L95.95 203.13 L96.10 206.42 L96.25 194.85 L96.40 201.62 L96.55 204.07 L96.70 200.64 L96.85 202.72 L97.00 211.71 L97.15 203.78 L97.30 193.32 L97.45 200.16 L97.60 196.47 L97.75 207.35 L97.90 212.26 L98.05 207.94 L98.20 196.43 L98.35 210.15 L98.50 209.23 L98.65 198.69 L98.80 206.69 L98.95 206.68 L99.10 203.72 L99.25 205.69 L99.40 208.20 L99.55 205.50 L99.70 211.44 L99.85 208.42 L100.00 205.40 L100.15 215.58 L100.30 211.90 L100.45 217.74 L100.60 208.68 L100.75 210.25 L100.90 209.38 L101.05 209.64 L101.20 210.29 L101.35 212.42 L101.50 220.43 L101.65 212.42 L101.80 222.05 L101.95 206.61 L102.10 217.09 L102.25 216.07 L102.40 225.31 L102.55 214.68 L102.70 214.65 L102.85 228.05 L103.00 220.17 L103.15 223.62 L103.30 224.84 L103.45 215.83 L103.60 212.66 L103.75 227.84 L103.90 218.60 L104.05 224.92 L104.20 217.98 L104.35 235.42 L104.50 226.82 L104.65 219.95 L104.80 229.02 L104.95 220.94 L105.10 228.73 L105.25 222.08 L105.40 224.90 L105.55 229.59 L105.70 231.44 L105.85 229.40 L106.00 224.37 L106.15 229.61 L106.30 232.71 L106.45 217.17 L106.60 237.18 L106.75 232.25 L106.90 229.70 L107.05 236.29 L107.20 232.74 L107.35 233.26 L107.50 239.13 L107.65 232.32 L107.80 238.63 L107.95 237.61 L108.10 230.86 L108.25 239.71 L108.40 234.01 L108.55 232.43 L108.70 233.53 L108.85 235.76 L109.00 238.54 L109.15 242.82 L109.30 238.04 L109.45 237.44 L109.60 240.73 L109.75 242.81 L109.90 237.32 L110.05 243.72 L110.20 239.48 L110.35 242.68 L110.50 246.65 L110.65 237.25 L110.80 240.62 L110.95 240.71 L111.10 247.16 L111.25 243.91 L111.40 243.18 L111.55 246.32 L111.70 240.34 L111.85 250.30 L112.00 243.63 L112.15 250.51 L112.30 249.99 L112.45 249.57 L112.60 245.32 L112.75 248.81 L112.90 249.00 L113.05 249.81 L113.20 251.32 L113.35 250.30 L113.50 250.72 L113.65 249.58 L113.80 249.94 L113.95 254.19 L114.10 250.90 L114.25 247.52 L114.40 250.94 L114.55 250.37 L114.70 251.73 L114.85 251.81 L115.00 250.88 L115.15 253.25 L115.30 251.36 L115.45 254.03 L115.60 250.84 L115.75 254.09 L115.90 250.66 L116.05 250.26 L116.20 254.47 L116.35 251.12 L116.50 252.87 L116.65 250.73 L116.80 253.29 L116.95 253.06 L117.10 253.19 L117.25 251.26 L117.40 255.50 L117.55 252.19 L117.70 253.15 L117.85 253.96 L118.00 253.75 L118.15 252.51 L118.30 252.75 L118.45 251.92 L118.60 254.53 L118.75 255.50 L118.90 254.58 L119.05 254.29 L119.20 254.59 L119.35 253.09 L119.50 252.22 L119.65 254.02 L119.80 255.50 L119.95 253.58 L120.10 255.04 L120.25 254.51 L120.40 253.91 L120.55 254.33 L120.70 254.70 L120.85 254.46 L121.00 254.15 L121.15 254.29 L121.30 253.29 L121.45 255.50 L121.60 255.37 L121.75 255.26 L121.90 254.35 L122.05 254.78 L122.20 254.42 L122.35 255.50 L122.50 255.14 L122.65 254.65 L122.80 255.09 L122.95 255.30 L123.10 254.96 L123.25 254.27 L123.40 255.50 L123.55 254.39 L123.70 255.06 L123.85 255.50 L124.00 254.95 L124.15 255.24 L124.30 254.78 L124.45 255.50 L124.60 254.94 L124.75 255.50 L124.90 255.24 L125.05 255.13 L125.20 255.40 L125.35 255.20 L125.50 255.50 L125.65 255.13 L125.80 255.50 L125.95 255.50 L126.10 255.47 L126.25 255.47 L126.40 255.50 L126.55 255.34 L126.70 255.50 L126.85 255.41 L127.00 255.50 L127.15 255.50 L127.30 255.50 L127.45 255.50 L127.60 255.50 L127.75 255.49 L127.90 255.49" fill="none" stroke="#000" stroke-width="0.5" stroke-opacity="0.7" stroke-linejoin="round"/>
<line x1="172.20" y1="165.40" x2="172.20" y2="255.40" stroke="#9a9a9a" stroke-width="0.8" />
<line x1="169.70" y1="255.40" x2="277.50" y2="255.40" stroke="#8a8a8a" stroke-width="0.8" />
<rect x="168.90" y="163.40" width="1.40" height="4.20" fill="#999" stroke="none" stroke-width="0"/>
<rect x="170.60" y="257.00" width="3.40" height="1.60" fill="#b0b0b0" stroke="none" stroke-width="0"/>
<rect x="196.92" y="257.00" width="3.40" height="1.60" fill="#b0b0b0" stroke="none" stroke-width="0"/>
<rect x="223.25" y="257.00" width="3.40" height="1.60" fill="#b0b0b0" stroke="none" stroke-width="0"/>
<rect x="249.58" y="257.00" width="3.40" height="1.60" fill="#b0b0b0" stroke="none" stroke-width="0"/>
<rect x="275.90" y="257.00" width="3.40" height="1.60" fill="#b0b0b0" stroke="none" stroke-width="0"/>
<path d="M173.00 255.40 L173.15 255.40 L173.30 255.27 L173.45 255.40 L173.60 255.26 L173.75 255.28 L173.90 255.40 L174.05 255.40 L174.20 255.14 L174.35 255.28 L174.50 254.96 L174.65 255.31 L174.80 254.34 L174.95 255.21 L175.10 254.20 L175.25 255.38 L175.40 254.74 L175.55 254.42 L175.70 255.40 L175.85 255.40 L176.00 254.62 L176.15 254.15 L176.30 253.95 L176.45 254.38 L176.60 254.01 L176.75 255.40 L176.90 254.88 L177.05 253.55 L177.20 254.89 L177.35 254.63 L177.50 255.40 L177.65 254.50 L177.80 255.40 L177.95 253.95 L178.10 252.97 L178.25 253.87 L178.40 253.93 L178.55 254.36 L178.70 253.45 L178.85 254.91 L179.00 254.25 L179.15 251.64 L179.30 254.97 L179.45 254.17 L179.60 254.97 L179.75 252.13 L179.90 253.62 L180.05 254.68 L180.20 254.60 L180.35 251.84 L180.50 252.23 L180.65 251.98 L180.80 252.91 L180.95 251.63 L181.10 250.99 L181.25 251.69 L181.40 254.53 L181.55 254.95 L181.70 254.21 L181.85 251.75 L182.00 254.11 L182.15 253.44 L182.30 251.73 L182.45 252.95 L182.60 253.46 L182.75 249.96 L182.90 250.53 L183.05 249.92 L183.20 249.56 L183.35 248.56 L183.50 250.82 L183.65 250.93 L183.80 253.46 L183.95 250.75 L184.10 251.23 L184.25 248.18 L184.40 248.67 L184.55 247.04 L184.70 247.54 L184.85 247.14 L185.00 248.15 L185.15 248.67 L185.30 249.45 L185.45 248.46 L185.60 250.11 L185.75 247.01 L185.90 247.70 L186.05 251.65 L186.20 252.91 L186.35 248.15 L186.50 247.20 L186.65 246.45 L186.80 242.18 L186.95 246.49 L187.10 247.73 L187.25 243.11 L187.40 241.03 L187.55 238.82 L187.70 245.55 L187.85 243.04 L188.00 243.10 L188.15 237.12 L188.30 238.96 L188.45 240.47 L188.60 237.91 L188.75 240.72 L188.90 239.81 L189.05 238.84 L189.20 239.88 L189.35 238.66 L189.50 236.27 L189.65 236.19 L189.80 231.62 L189.95 233.22 L190.10 235.94 L190.25 242.80 L190.40 239.96 L190.55 236.13 L190.70 235.28 L190.85 238.16 L191.00 234.36 L191.15 232.12 L191.30 234.41 L191.45 232.11 L191.60 231.45 L191.75 233.28 L191.90 233.41 L192.05 230.07 L192.20 227.99 L192.35 232.64 L192.50 236.14 L192.65 231.26 L192.80 224.74 L192.95 232.90 L193.10 221.75 L193.25 227.47 L193.40 223.80 L193.55 226.96 L193.70 220.34 L193.85 221.87 L194.00 219.62 L194.15 229.24 L194.30 216.29 L194.45 226.52 L194.60 219.44 L194.75 214.57 L194.90 217.11 L195.05 212.95 L195.20 213.74 L195.35 213.35 L195.50 217.09 L195.65 207.31 L195.80 205.94 L195.95 213.60 L196.10 214.72 L196.25 208.36 L196.40 212.67 L196.55 207.38 L196.70 203.22 L196.85 203.50 L197.00 198.73 L197.15 203.74 L197.30 211.41 L197.45 210.05 L197.60 202.21 L197.75 194.42 L197.90 206.34 L198.05 209.10 L198.20 196.23 L198.35 204.29 L198.50 199.61 L198.65 197.34 L198.80 208.55 L198.95 205.07 L199.10 206.17 L199.25 200.27 L199.40 199.69 L199.55 206.11 L199.70 200.53 L199.85 213.49 L200.00 202.09 L200.15 202.37 L200.30 204.48 L200.45 212.58 L200.60 205.58 L200.75 211.06 L200.90 197.84 L201.05 207.41 L201.20 207.23 L201.35 206.97 L201.50 203.76 L201.65 206.42 L201.80 204.22 L201.95 212.11 L202.10 201.68 L202.25 210.21 L202.40 203.90 L202.55 206.81 L202.70 202.68 L202.85 208.81 L203.00 216.23 L203.15 214.75 L203.30 203.89 L203.45 202.13 L203.60 211.58 L203.75 209.36 L203.90 203.48 L204.05 212.94 L204.20 208.75 L204.35 209.12 L204.50 213.80 L204.65 209.88 L204.80 206.05 L204.95 206.33 L205.10 213.52 L205.25 197.71 L205.40 210.72 L205.55 214.12 L205.70 216.63 L205.85 218.27 L206.00 209.91 L206.15 228.27 L206.30 215.59 L206.45 221.95 L206.60 216.79 L206.75 216.75 L206.90 223.30 L207.05 222.42 L207.20 212.73 L207.35 221.71 L207.50 219.91 L207.65 221.96 L207.80 217.58 L207.95 216.58 L208.10 218.59 L208.25 220.82 L208.40 221.41 L208.55 229.35 L208.70 219.48 L208.85 227.74 L209.00 229.57 L209.15 227.96 L209.30 230.12 L209.45 225.78 L209.60 224.51 L209.75 223.37 L209.90 229.22 L210.05 231.62 L210.20 230.86 L210.35 234.68 L210.50 233.46 L210.65 223.75 L210.80 234.43 L210.95 233.71 L211.10 230.21 L211.25 231.99 L211.40 230.62 L211.55 236.79 L211.70 237.21 L211.85 230.04 L212.00 237.29 L212.15 235.71 L212.30 235.06 L212.45 242.27 L212.60 237.17 L212.75 239.02 L212.90 235.61 L213.05 238.64 L213.20 245.09 L213.35 235.21 L213.50 246.61 L213.65 240.37 L213.80 241.57 L213.95 241.67 L214.10 240.25 L214.25 237.81 L214.40 243.44 L214.55 243.03 L214.70 239.58 L214.85 240.61 L215.00 240.41 L215.15 241.82 L215.30 243.71 L215.45 244.68 L215.60 244.97 L215.75 241.78 L215.90 240.67 L216.05 239.85 L216.20 247.59 L216.35 245.94 L216.50 245.68 L216.65 246.37 L216.80 248.86 L216.95 241.69 L217.10 243.53 L217.25 247.50 L217.40 248.39 L217.55 247.70 L217.70 250.43 L217.85 248.87 L218.00 246.87 L218.15 245.39 L218.30 247.15 L218.45 246.48 L218.60 251.26 L218.75 255.40 L218.90 247.15 L219.05 249.50 L219.20 250.14 L219.35 247.26 L219.50 251.97 L219.65 252.10 L219.80 251.89 L219.95 248.19 L220.10 249.46 L220.25 253.94 L220.40 248.74 L220.55 251.43 L220.70 250.97 L220.85 252.87 L221.00 249.22 L221.15 251.43 L221.30 250.38 L221.45 253.66 L221.60 251.54 L221.75 252.48 L221.90 253.00 L222.05 253.84 L222.20 253.80 L222.35 254.45 L222.50 253.96 L222.65 253.34 L222.80 252.79 L222.95 255.16 L223.10 254.68 L223.25 254.33 L223.40 255.39 L223.55 254.16 L223.70 254.21 L223.85 254.21 L224.00 253.75 L224.15 253.37 L224.30 253.57 L224.45 254.06 L224.60 253.86 L224.75 255.00 L224.90 255.13 L225.05 253.95 L225.20 254.05 L225.35 252.88 L225.50 254.68 L225.65 255.25 L225.80 254.37 L225.95 254.91 L226.10 255.23 L226.25 253.74 L226.40 253.41 L226.55 254.46 L226.70 255.14 L226.85 254.59 L227.00 254.80 L227.15 255.40 L227.30 254.32 L227.45 254.64 L227.60 254.14 L227.75 255.19 L227.90 254.91 L228.05 254.98 L228.20 255.40 L228.35 253.67 L228.50 255.40 L228.65 255.40 L228.80 255.19 L228.95 255.40 L229.10 254.86 L229.25 255.28 L229.40 255.05 L229.55 255.00 L229.70 255.09 L229.85 255.09 L230.00 255.21 L230.15 255.00 L230.30 254.88 L230.45 255.28 L230.60 255.36 L230.75 255.35 L230.90 255.13 L231.05 255.36 L231.20 255.37 L231.35 255.40 L231.50 254.74 L231.65 255.40 L231.80 254.87 L231.95 255.11 L232.10 255.08 L232.25 255.27 L232.40 255.23 L232.55 255.28 L232.70 255.24 L232.85 255.21 L233.00 255.12 L233.15 255.40 L233.30 255.30 L233.45 255.17 L233.60 255.22 L233.75 255.40 L233.90 255.36 L234.05 255.37 L234.20 255.38 L234.35 255.40 L234.50 255.36 L234.65 255.40 L234.80 255.36 L234.95 255.40" fill="none" stroke="#000" stroke-width="0.5" stroke-opacity="0.7" stroke-linejoin="round"/>
<path d="M173.00 255.40 L173.15 255.40 L173.30 255.40 L173.45 255.40 L173.60 255.21 L173.75 255.40 L173.90 255.40 L174.05 255.06 L174.20 255.06 L174.35 254.80 L174.50 255.18 L174.65 255.40 L174.80 254.73 L174.95 255.18 L175.10 255.16 L175.25 255.40 L175.40 254.84 L175.55 255.40 L175.70 254.69 L175.85 255.40 L176.00 254.39 L176.15 255.40 L176.30 254.39 L176.45 253.19 L176.60 254.91 L176.75 255.40 L176.90 253.28 L177.05 254.92 L177.20 255.38 L177.35 253.56 L177.50 255.40 L177.65 255.40 L177.80 255.40 L177.95 254.89 L178.10 255.40 L178.25 253.47 L178.40 253.21 L178.55 254.13 L178.70 254.41 L178.85 255.40 L179.00 253.42 L179.15 254.52 L179.30 253.11 L179.45 252.59 L179.60 253.55 L179.75 255.40 L179.90 254.49 L180.05 251.79 L180.20 252.95 L180.35 251.49 L180.50 255.40 L180.65 253.15 L180.80 253.14 L180.95 254.92 L181.10 253.57 L181.25 251.32 L181.40 251.79 L181.55 253.16 L181.70 251.85 L181.85 250.49 L182.00 253.67 L182.15 251.54 L182.30 250.28 L182.45 252.80 L182.60 249.59 L182.75 251.64 L182.90 249.58 L183.05 249.72 L183.20 250.66 L183.35 251.46 L183.50 251.96 L183.65 250.39 L183.80 250.17 L183.95 247.88 L184.10 250.41 L184.25 249.44 L184.40 246.78 L184.55 249.17 L184.70 248.74 L184.85 246.28 L185.00 249.04 L185.15 248.18 L185.30 247.18 L185.45 248.73 L185.60 250.59 L185.75 251.10 L185.90 248.03 L186.05 244.66 L186.20 244.56 L186.35 242.64 L186.50 243.95 L186.65 247.39 L186.80 249.07 L186.95 246.31 L187.10 245.26 L187.25 246.13 L187.40 241.18 L187.55 245.48 L187.70 241.18 L187.85 240.12 L188.00 247.05 L188.15 242.75 L188.30 237.22 L188.45 237.97 L188.60 239.74 L188.75 243.19 L188.90 241.48 L189.05 238.49 L189.20 234.15 L189.35 236.24 L189.50 237.75 L189.65 236.04 L189.80 233.89 L189.95 242.31 L190.10 239.24 L190.25 235.17 L190.40 230.44 L190.55 230.43 L190.70 236.83 L190.85 233.39 L191.00 235.82 L191.15 233.49 L191.30 231.51 L191.45 233.00 L191.60 233.30 L191.75 235.24 L191.90 236.47 L192.05 230.35 L192.20 228.24 L192.35 225.93 L192.50 231.37 L192.65 230.44 L192.80 221.39 L192.95 224.40 L193.10 221.73 L193.25 227.48 L193.40 227.50 L193.55 228.79 L193.70 218.31 L193.85 227.30 L194.00 229.33 L194.15 223.94 L194.30 213.48 L194.45 218.55 L194.60 216.68 L194.75 216.39 L194.90 216.36 L195.05 216.15 L195.20 221.68 L195.35 205.15 L195.50 213.80 L195.65 205.92 L195.80 219.81 L195.95 207.91 L196.10 216.42 L196.25 216.36 L196.40 207.21 L196.55 202.36 L196.70 199.88 L196.85 199.54 L197.00 208.03 L197.15 201.73 L197.30 209.12 L197.45 208.43 L197.60 203.63 L197.75 205.33 L197.90 199.49 L198.05 214.52 L198.20 197.23 L198.35 206.87 L198.50 194.81 L198.65 196.56 L198.80 209.72 L198.95 203.30 L199.10 199.10 L199.25 207.65 L199.40 207.45 L199.55 205.06 L199.70 199.18 L199.85 198.45 L200.00 206.30 L200.15 189.98 L200.30 195.98 L200.45 199.42 L200.60 209.07 L200.75 209.95 L200.90 203.87 L201.05 201.13 L201.20 203.61 L201.35 208.41 L201.50 211.66 L201.65 199.64 L201.80 207.74 L201.95 196.78 L202.10 213.65 L202.25 209.34 L202.40 211.24 L202.55 197.79 L202.70 201.32 L202.85 210.99 L203.00 219.00 L203.15 202.41 L203.30 208.17 L203.45 215.19 L203.60 217.40 L203.75 207.33 L203.90 210.81 L204.05 203.48 L204.20 208.04 L204.35 212.36 L204.50 212.08 L204.65 207.37 L204.80 211.72 L204.95 212.87 L205.10 208.32 L205.25 222.35 L205.40 205.80 L205.55 210.29 L205.70 216.90 L205.85 214.21 L206.00 207.41 L206.15 211.36 L206.30 223.71 L206.45 220.35 L206.60 214.90 L206.75 207.56 L206.90 213.29 L207.05 218.66 L207.20 215.56 L207.35 218.96 L207.50 221.15 L207.65 218.60 L207.80 231.01 L207.95 217.07 L208.10 219.93 L208.25 225.00 L208.40 227.45 L208.55 229.56 L208.70 223.56 L208.85 224.63 L209.00 225.01 L209.15 218.94 L209.30 236.12 L209.45 230.29 L209.60 230.97 L209.75 224.30 L209.90 229.73 L210.05 233.00 L210.20 228.80 L210.35 226.80 L210.50 224.18 L210.65 230.01 L210.80 233.16 L210.95 233.83 L211.10 235.43 L211.25 230.92 L211.40 230.13 L211.55 234.45 L211.70 234.52 L211.85 228.03 L212.00 234.47 L212.15 233.46 L212.30 239.46 L212.45 238.13 L212.60 243.79 L212.75 241.46 L212.90 235.91 L213.05 233.34 L213.20 238.77 L213.35 242.17 L213.50 238.32 L213.65 235.31 L213.80 239.87 L213.95 236.83 L214.10 240.28 L214.25 244.23 L214.40 243.56 L214.55 241.94 L214.70 234.80 L214.85 240.19 L215.00 242.93 L215.15 241.78 L215.30 242.35 L215.45 244.52 L215.60 243.92 L215.75 244.65 L215.90 242.34 L216.05 240.57 L216.20 241.55 L216.35 246.08 L216.50 244.21 L216.65 247.66 L216.80 248.82 L216.95 246.31 L217.10 245.35 L217.25 247.20 L217.40 245.46 L217.55 245.75 L217.70 246.20 L217.85 248.43 L218.00 251.20 L218.15 244.83 L218.30 249.76 L218.45 247.53 L218.60 248.24 L218.75 250.07 L218.90 246.08 L219.05 248.48 L219.20 249.95 L219.35 250.85 L219.50 252.00 L219.65 252.66 L219.80 249.59 L219.95 251.44 L220.10 251.67 L220.25 250.24 L220.40 251.79 L220.55 250.35 L220.70 252.53 L220.85 252.48 L221.00 250.47 L221.15 252.98 L221.30 251.25 L221.45 251.56 L221.60 252.39 L221.75 254.75 L221.90 254.36 L222.05 254.19 L222.20 254.52 L222.35 251.99 L222.50 254.19 L222.65 254.70 L222.80 253.95 L222.95 253.59 L223.10 255.36 L223.25 253.05 L223.40 253.04 L223.55 254.44 L223.70 253.16 L223.85 255.40 L224.00 254.58 L224.15 254.29 L224.30 254.14 L224.45 253.28 L224.60 254.58 L224.75 255.16 L224.90 254.21 L225.05 254.29 L225.20 254.09 L225.35 254.72 L225.50 254.36 L225.65 254.94 L225.80 254.14 L225.95 255.05 L226.10 255.04 L226.25 253.82 L226.40 255.17 L226.55 254.67 L226.70 254.33 L226.85 254.93 L227.00 254.17 L227.15 255.13 L227.30 254.17 L227.45 255.40 L227.60 255.40 L227.75 254.82 L227.90 254.07 L228.05 254.01 L228.20 255.39 L228.35 254.96 L228.50 255.22 L228.65 255.40 L228.80 254.64 L228.95 255.20 L229.10 254.39 L229.25 254.93 L229.40 255.31 L229.55 255.39 L229.70 255.19 L229.85 254.93 L230.00 255.34 L230.15 254.05 L230.30 255.09 L230.45 255.40 L230.60 255.17 L230.75 254.82 L230.90 255.08 L231.05 255.34 L231.20 255.40 L231.35 255.40 L231.50 255.40 L231.65 255.40 L231.80 255.22 L231.95 255.40 L232.10 254.93 L232.25 255.23 L232.40 255.40 L232.55 255.34 L232.70 255.07 L232.85 255.40 L233.00 255.32 L233.15 254.96 L233.30 255.23 L233.45 255.40 L233.60 255.36 L233.75 255.40 L233.90 255.14 L234.05 255.40 L234.20 255.40 L234.35 255.40 L234.50 255.40 L234.65 255.40 L234.80 255.40 L234.95 255.40" fill="none" stroke="#000" stroke-width="0.5" stroke-opacity="0.7" stroke-linejoin="round"/>
<path d="M173.00 255.40 L173.20 255.27 L173.40 255.36 L173.60 255.05 L173.80 255.29 L174.00 255.40 L174.20 255.40 L174.40 255.26 L174.60 254.82 L174.80 254.81 L175.00 254.81 L175.20 254.35 L175.40 253.99 L175.60 255.04 L175.80 254.02 L176.00 253.25 L176.20 254.63 L176.40 254.50 L176.60 253.84 L176.80 253.80 L177.00 254.14 L177.20 253.69 L177.40 252.37 L177.60 252.66 L177.80 253.75 L178.00 254.29 L178.20 253.67 L178.40 252.42 L178.60 253.05 L178.80 252.92 L179.00 251.27 L179.20 251.99 L179.40 251.87 L179.60 251.05 L179.80 249.48 L180.00 250.47 L180.20 249.80 L180.40 250.23 L180.60 248.29 L180.80 251.28 L181.00 250.94 L181.20 249.96 L181.40 246.52 L181.60 246.82 L181.80 249.97 L182.00 248.86 L182.20 247.22 L182.40 247.58 L182.60 246.12 L182.80 247.78 L183.00 249.19 L183.20 245.51 L183.40 244.20 L183.60 248.16 L183.80 248.40 L184.00 245.82 L184.20 247.78 L184.40 243.66 L184.60 245.96 L184.80 242.36 L185.00 243.85 L185.20 242.63 L185.40 241.28 L185.60 242.44 L185.80 243.53 L186.00 239.52 L186.20 243.62 L186.40 237.66 L186.60 241.14 L186.80 240.55 L187.00 238.25 L187.20 237.73 L187.40 237.06 L187.60 240.34 L187.80 239.04 L188.00 235.90 L188.20 235.28 L188.40 235.74 L188.60 232.01 L188.80 234.72 L189.00 231.49 L189.20 230.45 L189.40 231.51 L189.60 232.12 L189.80 229.12 L190.00 229.11 L190.20 227.94 L190.40 231.01 L190.60 226.83 L190.80 223.09 L191.00 227.32 L191.20 225.45 L191.40 225.74 L191.60 221.89 L191.80 229.38 L192.00 218.25 L192.20 220.52 L192.40 221.85 L192.60 215.96 L192.80 216.18 L193.00 217.59 L193.20 215.82 L193.40 213.32 L193.60 215.66 L193.80 213.01 L194.00 209.81 L194.20 211.87 L194.40 214.88 L194.60 209.47 L194.80 204.32 L195.00 211.19 L195.20 207.65 L195.40 206.83 L195.60 204.46 L195.80 208.26 L196.00 206.42 L196.20 199.13 L196.40 203.16 L196.60 207.41 L196.80 202.12 L197.00 204.38 L197.20 198.89 L197.40 209.87 L197.60 203.62 L197.80 200.38 L198.00 208.36 L198.20 206.53 L198.40 202.26 L198.60 203.95 L198.80 205.32 L199.00 203.36 L199.20 209.58 L199.40 207.88 L199.60 199.10 L199.80 207.71 L200.00 204.19 L200.20 206.16 L200.40 203.23 L200.60 205.31 L200.80 205.27 L201.00 202.87 L201.20 205.99 L201.40 213.16 L201.60 209.80 L201.80 202.87 L202.00 204.35 L202.20 208.97 L202.40 213.80 L202.60 211.06 L202.80 201.85 L203.00 205.09 L203.20 205.27 L203.40 215.03 L203.60 214.44 L203.80 212.16 L204.00 214.99 L204.20 210.44 L204.40 214.73 L204.60 209.93 L204.80 212.58 L205.00 214.05 L205.20 210.53 L205.40 211.63 L205.60 213.19 L205.80 215.40 L206.00 215.13 L206.20 221.76 L206.40 222.65 L206.60 219.58 L206.80 218.04 L207.00 214.19 L207.20 219.20 L207.40 224.15 L207.60 223.61 L207.80 226.65 L208.00 224.06 L208.20 224.95 L208.40 225.51 L208.60 225.36 L208.80 224.00 L209.00 225.62 L209.20 231.04 L209.40 224.21 L209.60 231.84 L209.80 228.99 L210.00 230.32 L210.20 227.07 L210.40 231.98 L210.60 232.55 L210.80 233.53 L211.00 231.47 L211.20 233.30 L211.40 235.14 L211.60 233.23 L211.80 230.99 L212.00 232.60 L212.20 233.42 L212.40 238.24 L212.60 237.80 L212.80 237.76 L213.00 242.02 L213.20 235.65 L213.40 242.37 L213.60 239.27 L213.80 242.86 L214.00 240.77 L214.20 239.96 L214.40 241.01 L214.60 243.94 L214.80 244.01 L215.00 241.75 L215.20 243.89 L215.40 244.03 L215.60 243.15 L215.80 249.05 L216.00 245.10 L216.20 243.99 L216.40 243.66 L216.60 245.69 L216.80 248.10 L217.00 246.08 L217.20 245.22 L217.40 248.94 L217.60 249.35 L217.80 248.91 L218.00 249.52 L218.20 251.76 L218.40 252.35 L218.60 251.31 L218.80 250.75 L219.00 249.78 L219.20 251.07 L219.40 250.55 L219.60 249.56 L219.80 248.18 L220.00 250.56 L220.20 252.56 L220.40 250.93 L220.60 252.06 L220.80 251.97 L221.00 251.65 L221.20 252.02 L221.40 253.86 L221.60 253.87 L221.80 252.99 L222.00 252.85 L222.20 252.07 L222.40 253.24 L222.60 254.00 L222.80 254.18 L223.00 254.41 L223.20 254.83 L223.40 254.89 L223.60 254.56 L223.80 254.29 L224.00 254.77 L224.20 254.43 L224.40 254.61 L224.60 254.63 L224.80 254.76 L225.00 254.48 L225.20 254.64 L225.40 255.40 L225.60 254.63 L225.80 254.73 L226.00 255.04 L226.20 254.78 L226.40 255.12 L226.60 254.87 L226.80 255.23 L227.00 254.76 L227.20 254.90 L227.40 255.40 L227.60 255.27 L227.80 254.91 L228.00 255.02 L228.20 255.12 L228.40 255.40 L228.60 255.35 L228.80 255.19 L229.00 255.18 L229.20 255.26 L229.40 255.40 L229.60 255.33 L229.80 255.38 L230.00 255.40 L230.20 255.40 L230.40 255.40 L230.60 255.40 L230.80 255.34 L231.00 255.33 L231.20 255.34 L231.40 255.40 L231.60 255.40 L231.80 255.40" fill="none" stroke="#333" stroke-width="0.85" stroke-opacity="0.85" stroke-linejoin="round"/>
<line x1="298.40" y1="170.20" x2="298.40" y2="255.70" stroke="#9a9a9a" stroke-width="0.8" />
<line x1="295.90" y1="255.70" x2="403.00" y2="255.70" stroke="#8a8a8a" stroke-width="0.8" />
<rect x="295.10" y="168.20" width="1.40" height="4.20" fill="#999" stroke="none" stroke-width="0"/>
<rect x="296.80" y="257.30" width="3.40" height="1.60" fill="#b0b0b0" stroke="none" stroke-width="0"/>
<rect x="322.95" y="257.30" width="3.40" height="1.60" fill="#b0b0b0" stroke="none" stroke-width="0"/>
<rect x="349.10" y="257.30" width="3.40" height="1.60" fill="#b0b0b0" stroke="none" stroke-width="0"/>
<rect x="375.25" y="257.30" width="3.40" height="1.60" fill="#b0b0b0" stroke="none" stroke-width="0"/>
<rect x="401.40" y="257.30" width="3.40" height="1.60" fill="#b0b0b0" stroke="none" stroke-width="0"/>
<path d="M299.00 255.70 L299.20 255.56 L299.40 254.44 L299.60 254.65 L299.80 253.60 L300.00 252.47 L300.20 252.52 L300.40 253.92 L300.60 252.46 L300.80 252.90 L301.00 250.91 L301.20 249.86 L301.40 250.75 L301.60 249.47 L301.80 249.86 L302.00 246.86 L302.20 248.62 L302.40 248.07 L302.60 247.21 L302.80 246.11 L303.00 246.16 L303.20 246.75 L303.40 246.21 L303.60 245.10 L303.80 244.52 L304.00 245.55 L304.20 245.42 L304.40 244.40 L304.60 242.75 L304.80 243.76 L305.00 244.34 L305.20 242.50 L305.40 242.21 L305.60 239.60 L305.80 241.04 L306.00 240.16 L306.20 234.95 L306.40 236.92 L306.60 238.87 L306.80 233.54 L307.00 235.92 L307.20 235.95 L307.40 231.69 L307.60 235.37 L307.80 231.22 L308.00 228.63 L308.20 227.06 L308.40 229.11 L308.60 227.95 L308.80 225.78 L309.00 221.23 L309.20 228.18 L309.40 219.98 L309.60 220.30 L309.80 216.19 L310.00 222.23 L310.20 214.61 L310.40 219.43 L310.60 214.81 L310.80 215.69 L311.00 220.82 L311.20 212.11 L311.40 209.33 L311.60 206.42 L311.80 209.88 L312.00 210.29 L312.20 202.59 L312.40 204.77 L312.60 198.49 L312.80 195.69 L313.00 200.13 L313.20 198.53 L313.40 199.19 L313.60 202.71 L313.80 193.97 L314.00 189.97 L314.20 187.49 L314.40 190.47 L314.60 182.18 L314.80 190.38 L315.00 187.51 L315.20 188.73 L315.40 187.60 L315.60 186.31 L315.80 187.42 L316.00 185.92 L316.20 182.78 L316.40 183.27 L316.60 187.86 L316.80 181.68 L317.00 187.22 L317.20 182.44 L317.40 184.45 L317.60 192.96 L317.80 190.10 L318.00 183.03 L318.20 190.15 L318.40 191.13 L318.60 190.51 L318.80 190.21 L319.00 189.58 L319.20 194.03 L319.40 187.82 L319.60 197.43 L319.80 197.76 L320.00 198.45 L320.20 198.42 L320.40 195.07 L320.60 193.22 L320.80 203.79 L321.00 204.32 L321.20 202.76 L321.40 206.59 L321.60 204.70 L321.80 212.42 L322.00 207.68 L322.20 218.75 L322.40 211.68 L322.60 212.67 L322.80 207.92 L323.00 220.00 L323.20 216.43 L323.40 217.66 L323.60 223.24 L323.80 220.89 L324.00 224.94 L324.20 226.77 L324.40 228.63 L324.60 226.15 L324.80 229.24 L325.00 232.72 L325.20 227.65 L325.40 233.48 L325.60 228.47 L325.80 230.43 L326.00 233.78 L326.20 236.33 L326.40 235.55 L326.60 237.29 L326.80 235.90 L327.00 236.62 L327.20 231.39 L327.40 241.62 L327.60 239.22 L327.80 237.62 L328.00 237.41 L328.20 237.52 L328.40 242.55 L328.60 239.91 L328.80 247.17 L329.00 243.09 L329.20 241.92 L329.40 242.79 L329.60 246.95 L329.80 246.63 L330.00 249.23 L330.20 247.70 L330.40 249.17 L330.60 247.45 L330.80 249.39 L331.00 248.20 L331.20 249.62 L331.40 250.37 L331.60 248.49 L331.80 249.66 L332.00 252.65 L332.20 250.32 L332.40 251.28 L332.60 251.08 L332.80 252.12 L333.00 254.21 L333.20 253.17 L333.40 254.95 L333.60 254.25 L333.80 253.83 L334.00 252.51 L334.20 253.54 L334.40 253.54 L334.60 253.30 L334.80 254.50 L335.00 253.31 L335.20 253.97 L335.40 254.77 L335.60 254.61 L335.80 254.49 L336.00 254.09 L336.20 253.73 L336.40 254.71 L336.60 254.72 L336.80 253.76 L337.00 253.15 L337.20 253.89 L337.40 254.70 L337.60 254.99 L337.80 254.57 L338.00 254.78 L338.20 255.28 L338.40 254.43 L338.60 254.01 L338.80 255.39 L339.00 255.40 L339.20 255.32 L339.40 255.62 L339.60 254.92 L339.80 255.70 L340.00 255.06 L340.20 255.18 L340.40 255.11 L340.60 255.70 L340.80 255.35 L341.00 255.34 L341.20 255.22 L341.40 255.38 L341.60 255.62 L341.80 255.27 L342.00 255.26 L342.20 255.30 L342.40 255.70 L342.60 255.51 L342.80 255.70 L343.00 255.65 L343.20 255.55 L343.40 255.70 L343.60 255.40 L343.80 255.57 L344.00 255.70 L344.20 255.70 L344.40 255.70 L344.60 255.70 L344.80 255.70" fill="none" stroke="#333" stroke-width="0.85" stroke-opacity="0.85" stroke-linejoin="round"/>
<path d="M300.00 255.70 L300.15 255.68 L300.30 255.68 L300.45 255.70 L300.60 255.70 L300.75 255.54 L300.90 255.13 L301.05 255.70 L301.20 255.28 L301.35 255.70 L301.50 255.70 L301.65 255.06 L301.80 254.43 L301.95 254.24 L302.10 253.71 L302.25 255.20 L302.40 254.53 L302.55 253.50 L302.70 255.10 L302.85 254.25 L303.00 253.78 L303.15 253.64 L303.30 252.42 L303.45 252.77 L303.60 253.67 L303.75 255.70 L303.90 251.71 L304.05 251.22 L304.20 251.68 L304.35 251.67 L304.50 251.30 L304.65 249.83 L304.80 252.28 L304.95 251.29 L305.10 252.60 L305.25 250.96 L305.40 251.75 L305.55 251.45 L305.70 253.41 L305.85 249.37 L306.00 246.70 L306.15 254.77 L306.30 245.20 L306.45 247.64 L306.60 248.69 L306.75 245.95 L306.90 246.82 L307.05 245.94 L307.20 241.66 L307.35 244.34 L307.50 243.31 L307.65 244.49 L307.80 243.74 L307.95 245.30 L308.10 242.54 L308.25 243.95 L308.40 237.67 L308.55 241.26 L308.70 237.68 L308.85 235.25 L309.00 235.39 L309.15 240.25 L309.30 231.59 L309.45 243.00 L309.60 230.62 L309.75 243.88 L309.90 237.24 L310.05 233.30 L310.20 234.82 L310.35 239.39 L310.50 236.14 L310.65 228.20 L310.80 235.30 L310.95 224.58 L311.10 221.34 L311.25 219.40 L311.40 223.15 L311.55 223.48 L311.70 224.11 L311.85 208.61 L312.00 214.71 L312.15 216.40 L312.30 216.87 L312.45 212.23 L312.60 225.98 L312.75 211.19 L312.90 217.30 L313.05 225.13 L313.20 206.36 L313.35 214.92 L313.50 207.34 L313.65 212.44 L313.80 209.39 L313.95 196.98 L314.10 202.81 L314.25 201.18 L314.40 211.23 L314.55 195.68 L314.70 203.55 L314.85 195.77 L315.00 203.54 L315.15 194.07 L315.30 191.86 L315.45 203.24 L315.60 191.26 L315.75 196.54 L315.90 183.60 L316.05 188.36 L316.20 189.66 L316.35 167.55 L316.50 183.46 L316.65 190.86 L316.80 182.38 L316.95 185.96 L317.10 178.88 L317.25 194.15 L317.40 174.94 L317.55 191.11 L317.70 190.44 L317.85 192.97 L318.00 190.45 L318.15 176.50 L318.30 188.06 L318.45 194.78 L318.60 188.72 L318.75 189.08 L318.90 185.14 L319.05 193.83 L319.20 191.20 L319.35 174.70 L319.50 194.56 L319.65 193.71 L319.80 202.48 L319.95 190.06 L320.10 199.44 L320.25 186.24 L320.40 190.90 L320.55 194.10 L320.70 202.65 L320.85 202.44 L321.00 203.45 L321.15 201.49 L321.30 204.74 L321.45 206.55 L321.60 203.66 L321.75 205.18 L321.90 208.02 L322.05 201.82 L322.20 202.13 L322.35 211.85 L322.50 198.42 L322.65 208.92 L322.80 205.59 L322.95 203.36 L323.10 221.31 L323.25 212.55 L323.40 211.51 L323.55 211.09 L323.70 214.03 L323.85 213.83 L324.00 226.63 L324.15 224.75 L324.30 218.36 L324.45 231.17 L324.60 225.05 L324.75 224.14 L324.90 222.37 L325.05 220.80 L325.20 224.44 L325.35 229.77 L325.50 230.97 L325.65 225.88 L325.80 225.87 L325.95 227.43 L326.10 229.07 L326.25 229.87 L326.40 236.43 L326.55 231.71 L326.70 229.33 L326.85 237.13 L327.00 231.90 L327.15 231.55 L327.30 226.26 L327.45 235.54 L327.60 236.78 L327.75 240.67 L327.90 240.78 L328.05 243.07 L328.20 244.10 L328.35 236.45 L328.50 239.31 L328.65 238.85 L328.80 245.27 L328.95 247.04 L329.10 246.71 L329.25 237.22 L329.40 239.27 L329.55 246.83 L329.70 243.33 L329.85 243.71 L330.00 247.29 L330.15 246.91 L330.30 243.44 L330.45 244.62 L330.60 244.75 L330.75 246.64 L330.90 247.62 L331.05 247.30 L331.20 249.16 L331.35 245.92 L331.50 249.30 L331.65 249.15 L331.80 250.69 L331.95 252.06 L332.10 251.33 L332.25 252.09 L332.40 253.09 L332.55 250.89 L332.70 249.44 L332.85 252.10 L333.00 252.79 L333.15 253.74 L333.30 254.82 L333.45 252.23 L333.60 252.40 L333.75 254.21 L333.90 253.24 L334.05 254.44 L334.20 251.90 L334.35 253.49 L334.50 253.22 L334.65 251.95 L334.80 255.70 L334.95 253.52 L335.10 253.75 L335.25 254.38 L335.40 254.13 L335.55 253.03 L335.70 254.88 L335.85 254.92 L336.00 252.84 L336.15 253.54 L336.30 254.06 L336.45 253.84 L336.60 254.48 L336.75 254.83 L336.90 254.75 L337.05 254.41 L337.20 255.05 L337.35 255.70 L337.50 254.88 L337.65 254.58 L337.80 254.91 L337.95 254.37 L338.10 254.68 L338.25 254.25 L338.40 254.85 L338.55 255.08 L338.70 254.63 L338.85 254.47 L339.00 255.32 L339.15 255.59 L339.30 254.33 L339.45 255.43 L339.60 254.95 L339.75 255.44 L339.90 255.10 L340.05 254.52 L340.20 254.42 L340.35 255.70 L340.50 255.70 L340.65 255.70 L340.80 255.09 L340.95 254.71 L341.10 255.29 L341.25 255.53 L341.40 255.12 L341.55 255.70 L341.70 255.25 L341.85 255.04 L342.00 255.12 L342.15 255.31 L342.30 255.69 L342.45 255.65 L342.60 255.70 L342.75 255.14 L342.90 255.32 L343.05 255.63 L343.20 255.64 L343.35 255.59 L343.50 255.70 L343.65 255.58 L343.80 255.60 L343.95 255.62 L344.10 255.67 L344.25 255.70 L344.40 255.70 L344.55 255.70 L344.70 255.70 L344.85 255.66" fill="none" stroke="#000" stroke-width="0.5" stroke-opacity="0.7" stroke-linejoin="round"/>
<path d="M300.00 255.70 L300.15 255.70 L300.30 255.70 L300.45 255.61 L300.60 255.70 L300.75 255.70 L300.90 255.70 L301.05 254.98 L301.20 255.60 L301.35 255.70 L301.50 254.71 L301.65 255.31 L301.80 254.72 L301.95 254.95 L302.10 254.42 L302.25 254.41 L302.40 255.70 L302.55 252.94 L302.70 253.17 L302.85 255.44 L303.00 252.89 L303.15 253.91 L303.30 253.36 L303.45 251.82 L303.60 251.95 L303.75 251.76 L303.90 250.22 L304.05 251.19 L304.20 253.28 L304.35 254.06 L304.50 250.79 L304.65 254.36 L304.80 252.06 L304.95 251.81 L305.10 252.11 L305.25 248.30 L305.40 249.73 L305.55 250.37 L305.70 247.92 L305.85 250.02 L306.00 246.45 L306.15 244.25 L306.30 248.31 L306.45 247.97 L306.60 244.61 L306.75 251.20 L306.90 249.20 L307.05 248.26 L307.20 249.28 L307.35 244.83 L307.50 243.56 L307.65 243.89 L307.80 243.37 L307.95 240.26 L308.10 239.24 L308.25 238.15 L308.40 241.56 L308.55 240.54 L308.70 235.58 L308.85 238.14 L309.00 234.60 L309.15 239.55 L309.30 237.43 L309.45 238.64 L309.60 235.76 L309.75 233.35 L309.90 235.55 L310.05 225.95 L310.20 237.62 L310.35 227.92 L310.50 234.41 L310.65 228.09 L310.80 231.34 L310.95 226.98 L311.10 225.98 L311.25 228.64 L311.40 229.49 L311.55 226.39 L311.70 222.23 L311.85 217.72 L312.00 213.11 L312.15 227.33 L312.30 216.40 L312.45 219.78 L312.60 216.52 L312.75 213.36 L312.90 210.56 L313.05 211.29 L313.20 212.26 L313.35 202.99 L313.50 208.27 L313.65 208.51 L313.80 201.21 L313.95 212.11 L314.10 209.83 L314.25 195.49 L314.40 203.34 L314.55 211.04 L314.70 195.27 L314.85 191.71 L315.00 201.98 L315.15 204.02 L315.30 195.61 L315.45 192.16 L315.60 196.91 L315.75 197.95 L315.90 188.39 L316.05 187.55 L316.20 199.87 L316.35 194.97 L316.50 190.97 L316.65 192.44 L316.80 186.85 L316.95 184.74 L317.10 176.22 L317.25 185.55 L317.40 182.09 L317.55 197.70 L317.70 192.46 L317.85 181.81 L318.00 197.71 L318.15 180.73 L318.30 186.03 L318.45 189.02 L318.60 191.06 L318.75 197.95 L318.90 197.97 L319.05 195.19 L319.20 195.20 L319.35 185.89 L319.50 200.01 L319.65 198.34 L319.80 205.60 L319.95 195.12 L320.10 196.84 L320.25 191.26 L320.40 187.33 L320.55 196.06 L320.70 202.93 L320.85 199.39 L321.00 199.84 L321.15 202.51 L321.30 208.89 L321.45 201.79 L321.60 210.99 L321.75 205.69 L321.90 207.73 L322.05 220.71 L322.20 204.84 L322.35 198.02 L322.50 211.95 L322.65 214.26 L322.80 207.54 L322.95 219.71 L323.10 213.17 L323.25 214.12 L323.40 218.93 L323.55 217.53 L323.70 222.00 L323.85 221.53 L324.00 216.64 L324.15 224.37 L324.30 223.76 L324.45 225.04 L324.60 220.52 L324.75 225.09 L324.90 227.25 L325.05 223.55 L325.20 234.01 L325.35 234.18 L325.50 225.90 L325.65 220.32 L325.80 230.40 L325.95 227.81 L326.10 235.16 L326.25 230.00 L326.40 230.38 L326.55 229.63 L326.70 235.11 L326.85 226.04 L327.00 237.06 L327.15 228.92 L327.30 238.58 L327.45 232.76 L327.60 231.53 L327.75 229.43 L327.90 237.57 L328.05 243.05 L328.20 235.64 L328.35 241.06 L328.50 242.69 L328.65 241.70 L328.80 243.15 L328.95 238.76 L329.10 240.98 L329.25 240.14 L329.40 240.24 L329.55 244.19 L329.70 241.85 L329.85 241.14 L330.00 240.15 L330.15 244.94 L330.30 246.51 L330.45 248.57 L330.60 247.83 L330.75 247.44 L330.90 247.43 L331.05 251.20 L331.20 249.72 L331.35 249.76 L331.50 250.90 L331.65 251.31 L331.80 250.02 L331.95 252.59 L332.10 250.57 L332.25 253.28 L332.40 251.60 L332.55 253.75 L332.70 250.75 L332.85 251.57 L333.00 250.95 L333.15 253.92 L333.30 254.62 L333.45 254.70 L333.60 253.46 L333.75 252.04 L333.90 252.58 L334.05 252.73 L334.20 254.95 L334.35 252.51 L334.50 252.99 L334.65 254.41 L334.80 255.70 L334.95 254.79 L335.10 254.20 L335.25 252.65 L335.40 254.01 L335.55 254.33 L335.70 252.91 L335.85 253.02 L336.00 254.11 L336.15 253.96 L336.30 253.50 L336.45 255.16 L336.60 254.29 L336.75 254.98 L336.90 255.43 L337.05 254.34 L337.20 253.93 L337.35 253.41 L337.50 254.25 L337.65 254.04 L337.80 254.99 L337.95 255.70 L338.10 255.36 L338.25 254.70 L338.40 255.37 L338.55 253.81 L338.70 254.29 L338.85 255.19 L339.00 254.07 L339.15 254.75 L339.30 254.22 L339.45 255.28 L339.60 254.78 L339.75 255.35 L339.90 255.24 L340.05 254.70 L340.20 254.37 L340.35 255.26 L340.50 255.21 L340.65 255.70 L340.80 255.48 L340.95 255.20 L341.10 255.70 L341.25 255.61 L341.40 255.70 L341.55 255.41 L341.70 255.20 L341.85 255.41 L342.00 255.62 L342.15 255.70 L342.30 255.70 L342.45 255.57 L342.60 255.21 L342.75 255.67 L342.90 255.63 L343.05 255.70 L343.20 255.70 L343.35 255.46 L343.50 255.54 L343.65 255.70 L343.80 255.70 L343.95 255.53 L344.10 255.70 L344.25 255.69 L344.40 255.70 L344.55 255.68 L344.70 255.70 L344.85 255.70" fill="none" stroke="#000" stroke-width="0.5" stroke-opacity="0.7" stroke-linejoin="round"/>
<text x="2.30" y="324.30" font-size="16.5" font-weight="bold" text-anchor="start" fill="#111" >B</text>
<text x="0" y="0" font-size="14.5" font-weight="bold" fill="#111" transform="translate(12.8 509.5) rotate(-90)">pg/mL</text>
<text x="59.70" y="464.60" font-size="11.4" font-weight="normal" text-anchor="end" fill="#111" >0</text>
<text x="59.70" y="417.90" font-size="11.4" font-weight="normal" text-anchor="end" fill="#111" >2,000</text>
<text x="59.70" y="371.20" font-size="11.4" font-weight="normal" text-anchor="end" fill="#111" >4,000</text>
<text x="59.70" y="324.50" font-size="11.4" font-weight="normal" text-anchor="end" fill="#111" >6,000</text>
<line x1="63.20" y1="460.60" x2="65.40" y2="460.60" stroke="#9a9a9a" stroke-width="0.8" />
<line x1="63.20" y1="437.25" x2="65.40" y2="437.25" stroke="#9a9a9a" stroke-width="0.8" />
<line x1="63.20" y1="413.90" x2="65.40" y2="413.90" stroke="#9a9a9a" stroke-width="0.8" />
<line x1="63.20" y1="390.55" x2="65.40" y2="390.55" stroke="#9a9a9a" stroke-width="0.8" />
<line x1="63.20" y1="367.20" x2="65.40" y2="367.20" stroke="#9a9a9a" stroke-width="0.8" />
<line x1="63.20" y1="343.85" x2="65.40" y2="343.85" stroke="#9a9a9a" stroke-width="0.8" />
<line x1="63.20" y1="320.50" x2="65.40" y2="320.50" stroke="#9a9a9a" stroke-width="0.8" />
<line x1="65.40" y1="320.50" x2="65.40" y2="460.60" stroke="#9a9a9a" stroke-width="0.9" />
<line x1="63.40" y1="460.60" x2="250.50" y2="460.60" stroke="#9a9a9a" stroke-width="0.9" />
<text x="77.00" y="327.80" font-size="11.2" font-weight="bold" text-anchor="start" fill="#111" >GRO&#945;</text>
<line x1="93.25" y1="346.70" x2="93.25" y2="354.40" stroke="#808080" stroke-width="1.4" />
<path d="M91.55 346.10 L94.95 346.10 L93.95 347.70 L92.55 347.70 Z" fill="#333"/>
<rect x="81.70" y="354.40" width="23.10" height="106.20" fill="#000" stroke="none" stroke-width="0"/>
<line x1="137.85" y1="445.80" x2="137.85" y2="449.20" stroke="#808080" stroke-width="1.4" />
<path d="M136.15 445.20 L139.55 445.20 L138.55 446.80 L137.15 446.80 Z" fill="#333"/>
<rect x="126.75" y="449.65" width="22.20" height="10.50" fill="#fff" stroke="#333" stroke-width="0.9"/>
<line x1="180.15" y1="420.20" x2="180.15" y2="421.60" stroke="#808080" stroke-width="1.4" />
<path d="M178.45 419.60 L181.85 419.60 L180.85 421.20 L179.45 421.20 Z" fill="#333"/>
<rect x="168.60" y="421.60" width="23.10" height="39.00" fill="#000" stroke="none" stroke-width="0"/>
<line x1="222.95" y1="455.90" x2="222.95" y2="457.60" stroke="#808080" stroke-width="1.4" />
<path d="M221.25 455.30 L224.65 455.30 L223.65 456.90 L222.25 456.90 Z" fill="#333"/>
<rect x="211.75" y="458.05" width="22.40" height="2.10" fill="#fff" stroke="#333" stroke-width="0.9"/>
<text x="89.90" y="479.00" font-size="11.4" font-weight="normal" text-anchor="start" fill="#111" >Anti-DR52</text>
<text x="177.50" y="479.00" font-size="11.4" font-weight="normal" text-anchor="start" fill="#111" >Anti-DR7</text>
<line x1="161.00" y1="467.50" x2="161.00" y2="481.00" stroke="#333" stroke-width="1.1" />
<text x="321.20" y="464.50" font-size="11.4" font-weight="normal" text-anchor="end" fill="#111" >0</text>
<text x="321.20" y="436.40" font-size="11.4" font-weight="normal" text-anchor="end" fill="#111" >2,000</text>
<text x="321.20" y="408.30" font-size="11.4" font-weight="normal" text-anchor="end" fill="#111" >4,000</text>
<text x="321.20" y="380.20" font-size="11.4" font-weight="normal" text-anchor="end" fill="#111" >6,000</text>
<text x="321.20" y="352.10" font-size="11.4" font-weight="normal" text-anchor="end" fill="#111" >8,000</text>
<text x="321.20" y="324.00" font-size="11.4" font-weight="normal" text-anchor="end" fill="#111" >10,000</text>
<line x1="324.70" y1="460.50" x2="326.90" y2="460.50" stroke="#9a9a9a" stroke-width="0.8" />
<line x1="324.70" y1="446.45" x2="326.90" y2="446.45" stroke="#9a9a9a" stroke-width="0.8" />
<line x1="324.70" y1="432.40" x2="326.90" y2="432.40" stroke="#9a9a9a" stroke-width="0.8" />
<line x1="324.70" y1="418.35" x2="326.90" y2="418.35" stroke="#9a9a9a" stroke-width="0.8" />
<line x1="324.70" y1="404.30" x2="326.90" y2="404.30" stroke="#9a9a9a" stroke-width="0.8" />
<line x1="324.70" y1="390.25" x2="326.90" y2="390.25" stroke="#9a9a9a" stroke-width="0.8" />
<line x1="324.70" y1="376.20" x2="326.90" y2="376.20" stroke="#9a9a9a" stroke-width="0.8" />
<line x1="324.70" y1="362.15" x2="326.90" y2="362.15" stroke="#9a9a9a" stroke-width="0.8" />
<line x1="324.70" y1="348.10" x2="326.90" y2="348.10" stroke="#9a9a9a" stroke-width="0.8" />
<line x1="324.70" y1="334.05" x2="326.90" y2="334.05" stroke="#9a9a9a" stroke-width="0.8" />
<line x1="324.70" y1="320.00" x2="326.90" y2="320.00" stroke="#9a9a9a" stroke-width="0.8" />
<line x1="326.90" y1="320.00" x2="326.90" y2="460.50" stroke="#9a9a9a" stroke-width="0.9" />
<line x1="324.90" y1="460.50" x2="511.20" y2="460.50" stroke="#9a9a9a" stroke-width="0.9" />
<text x="344.20" y="326.60" font-size="11.2" font-weight="bold" text-anchor="start" fill="#111" >IL-8</text>
<line x1="354.65" y1="330.00" x2="354.65" y2="356.90" stroke="#808080" stroke-width="1.4" />
<path d="M352.95 329.40 L356.35 329.40 L355.35 331.00 L353.95 331.00 Z" fill="#333"/>
<rect x="343.10" y="356.90" width="23.10" height="103.60" fill="#000" stroke="none" stroke-width="0"/>
<line x1="398.25" y1="456.00" x2="398.25" y2="457.00" stroke="#808080" stroke-width="1.4" />
<path d="M396.55 455.40 L399.95 455.40 L398.95 457.00 L397.55 457.00 Z" fill="#333"/>
<rect x="387.15" y="457.45" width="22.20" height="2.60" fill="#fff" stroke="#333" stroke-width="0.9"/>
<line x1="440.75" y1="385.40" x2="440.75" y2="400.40" stroke="#808080" stroke-width="1.4" />
<path d="M439.05 384.80 L442.45 384.80 L441.45 386.40 L440.05 386.40 Z" fill="#333"/>
<rect x="429.60" y="400.40" width="22.30" height="60.10" fill="#000" stroke="none" stroke-width="0"/>
<line x1="483.85" y1="437.30" x2="483.85" y2="441.20" stroke="#808080" stroke-width="1.4" />
<path d="M482.15 436.70 L485.55 436.70 L484.55 438.30 L483.15 438.30 Z" fill="#333"/>
<rect x="473.15" y="441.65" width="21.40" height="18.40" fill="#fff" stroke="#333" stroke-width="0.9"/>
<text x="350.80" y="479.00" font-size="11.4" font-weight="normal" text-anchor="start" fill="#111" >Anti-DR52</text>
<text x="440.40" y="479.00" font-size="11.4" font-weight="normal" text-anchor="start" fill="#111" >Anti-DR7</text>
<line x1="423.00" y1="467.50" x2="423.00" y2="481.00" stroke="#333" stroke-width="1.1" />
<text x="59.70" y="660.20" font-size="11.4" font-weight="normal" text-anchor="end" fill="#111" >0</text>
<text x="59.70" y="613.30" font-size="11.4" font-weight="normal" text-anchor="end" fill="#111" >100</text>
<text x="59.70" y="566.40" font-size="11.4" font-weight="normal" text-anchor="end" fill="#111" >200</text>
<text x="59.70" y="519.50" font-size="11.4" font-weight="normal" text-anchor="end" fill="#111" >300</text>
<line x1="63.20" y1="656.20" x2="65.40" y2="656.20" stroke="#9a9a9a" stroke-width="0.8" />
<line x1="63.20" y1="632.75" x2="65.40" y2="632.75" stroke="#9a9a9a" stroke-width="0.8" />
<line x1="63.20" y1="609.30" x2="65.40" y2="609.30" stroke="#9a9a9a" stroke-width="0.8" />
<line x1="63.20" y1="585.85" x2="65.40" y2="585.85" stroke="#9a9a9a" stroke-width="0.8" />
<line x1="63.20" y1="562.40" x2="65.40" y2="562.40" stroke="#9a9a9a" stroke-width="0.8" />
<line x1="63.20" y1="538.95" x2="65.40" y2="538.95" stroke="#9a9a9a" stroke-width="0.8" />
<line x1="63.20" y1="515.50" x2="65.40" y2="515.50" stroke="#9a9a9a" stroke-width="0.8" />
<line x1="65.40" y1="515.50" x2="65.40" y2="656.20" stroke="#9a9a9a" stroke-width="0.9" />
<line x1="63.40" y1="656.20" x2="250.00" y2="656.20" stroke="#9a9a9a" stroke-width="0.9" />
<text x="79.20" y="522.10" font-size="11.2" font-weight="bold" text-anchor="start" fill="#111" >TNF&#945;</text>
<line x1="93.65" y1="534.00" x2="93.65" y2="577.90" stroke="#808080" stroke-width="1.4" />
<path d="M91.95 533.40 L95.35 533.40 L94.35 535.00 L92.95 535.00 Z" fill="#333"/>
<rect x="82.00" y="577.90" width="23.30" height="78.30" fill="#000" stroke="none" stroke-width="0"/>
<line x1="127.20" y1="655.80" x2="150.30" y2="655.80" stroke="#111" stroke-width="1.2" />
<line x1="180.70" y1="557.00" x2="180.70" y2="601.10" stroke="#808080" stroke-width="1.4" />
<path d="M179.00 556.40 L182.40 556.40 L181.40 558.00 L180.00 558.00 Z" fill="#333"/>
<rect x="169.10" y="601.10" width="23.20" height="55.10" fill="#000" stroke="none" stroke-width="0"/>
<line x1="210.30" y1="655.80" x2="233.70" y2="655.80" stroke="#111" stroke-width="1.2" />
<text x="128.40" y="648.80" font-size="11.4" font-weight="normal" text-anchor="start" fill="#111" >&lt;DL</text>
<text x="211.20" y="648.90" font-size="11.4" font-weight="normal" text-anchor="start" fill="#111" >&lt;DL</text>
<text x="89.60" y="675.10" font-size="11.4" font-weight="normal" text-anchor="start" fill="#111" >Anti-DR52</text>
<text x="178.10" y="675.10" font-size="11.4" font-weight="normal" text-anchor="start" fill="#111" >Anti-DR7</text>
<line x1="160.80" y1="664.00" x2="160.80" y2="677.50" stroke="#333" stroke-width="1.1" />
<text x="321.00" y="660.20" font-size="11.4" font-weight="normal" text-anchor="end" fill="#111" >0</text>
<text x="321.00" y="625.03" font-size="11.4" font-weight="normal" text-anchor="end" fill="#111" >2,000</text>
<text x="321.00" y="589.85" font-size="11.4" font-weight="normal" text-anchor="end" fill="#111" >4,000</text>
<text x="321.00" y="554.67" font-size="11.4" font-weight="normal" text-anchor="end" fill="#111" >6,000</text>
<text x="321.00" y="519.50" font-size="11.4" font-weight="normal" text-anchor="end" fill="#111" >8,000</text>
<line x1="324.50" y1="656.20" x2="326.70" y2="656.20" stroke="#9a9a9a" stroke-width="0.8" />
<line x1="324.50" y1="638.61" x2="326.70" y2="638.61" stroke="#9a9a9a" stroke-width="0.8" />
<line x1="324.50" y1="621.03" x2="326.70" y2="621.03" stroke="#9a9a9a" stroke-width="0.8" />
<line x1="324.50" y1="603.44" x2="326.70" y2="603.44" stroke="#9a9a9a" stroke-width="0.8" />
<line x1="324.50" y1="585.85" x2="326.70" y2="585.85" stroke="#9a9a9a" stroke-width="0.8" />
<line x1="324.50" y1="568.26" x2="326.70" y2="568.26" stroke="#9a9a9a" stroke-width="0.8" />
<line x1="324.50" y1="550.67" x2="326.70" y2="550.67" stroke="#9a9a9a" stroke-width="0.8" />
<line x1="324.50" y1="533.09" x2="326.70" y2="533.09" stroke="#9a9a9a" stroke-width="0.8" />
<line x1="324.50" y1="515.50" x2="326.70" y2="515.50" stroke="#9a9a9a" stroke-width="0.8" />
<line x1="326.70" y1="515.50" x2="326.70" y2="656.20" stroke="#9a9a9a" stroke-width="0.9" />
<line x1="324.70" y1="656.20" x2="511.00" y2="656.20" stroke="#9a9a9a" stroke-width="0.9" />
<text x="341.20" y="522.10" font-size="11.2" font-weight="bold" text-anchor="start" fill="#111" >LTB4</text>
<line x1="355.35" y1="577.30" x2="355.35" y2="596.50" stroke="#808080" stroke-width="1.4" />
<path d="M353.65 576.70 L357.05 576.70 L356.05 578.30 L354.65 578.30 Z" fill="#333"/>
<rect x="343.80" y="596.50" width="23.10" height="59.70" fill="#000" stroke="none" stroke-width="0"/>
<line x1="386.20" y1="655.80" x2="410.40" y2="655.80" stroke="#111" stroke-width="1.2" />
<line x1="441.15" y1="536.30" x2="441.15" y2="565.60" stroke="#808080" stroke-width="1.4" />
<path d="M439.45 535.70 L442.85 535.70 L441.85 537.30 L440.45 537.30 Z" fill="#333"/>
<rect x="429.60" y="565.60" width="23.10" height="90.60" fill="#000" stroke="none" stroke-width="0"/>
<line x1="484.25" y1="647.30" x2="484.25" y2="651.20" stroke="#808080" stroke-width="1.4" />
<path d="M482.55 646.70 L485.95 646.70 L484.95 648.30 L483.55 648.30 Z" fill="#333"/>
<rect x="473.15" y="651.65" width="22.20" height="4.10" fill="#fff" stroke="#333" stroke-width="0.9"/>
<text x="388.50" y="648.50" font-size="11.4" font-weight="normal" text-anchor="start" fill="#111" >&lt;DL</text>
<text x="350.80" y="675.10" font-size="11.4" font-weight="normal" text-anchor="start" fill="#111" >Anti-DR52</text>
<text x="440.40" y="675.10" font-size="11.4" font-weight="normal" text-anchor="start" fill="#111" >Anti-DR7</text>
<line x1="423.10" y1="664.60" x2="423.10" y2="677.30" stroke="#333" stroke-width="1.1" />
</svg>
</body></html>
